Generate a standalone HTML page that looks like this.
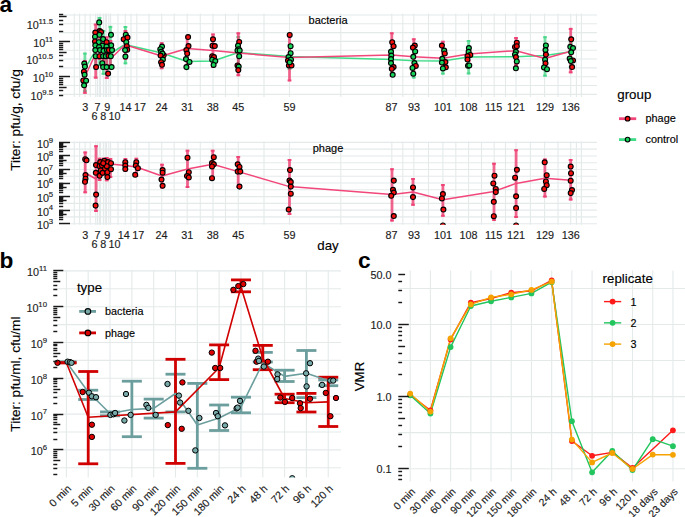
<!DOCTYPE html>
<html><head><meta charset="utf-8"><style>html,body{margin:0;padding:0;background:#fff;overflow:hidden;}svg{display:block;}</style></head><body>
<svg width="685" height="517" viewBox="0 0 685 517" font-family='"Liberation Sans", sans-serif'>
<style>text{stroke-width:0.15px;stroke-linejoin:round;}</style>
<rect width="685" height="517" fill="#fff"/>
<line x1="59" y1="94.35" x2="597" y2="94.35" stroke="#E4EAEA" stroke-width="1.1" />
<line x1="59" y1="85.53" x2="597" y2="85.53" stroke="#E4EAEA" stroke-width="1.1" />
<line x1="59" y1="76.7" x2="597" y2="76.7" stroke="#E4EAEA" stroke-width="1.1" />
<line x1="59" y1="67.88" x2="597" y2="67.88" stroke="#E4EAEA" stroke-width="1.1" />
<line x1="59" y1="59.05" x2="597" y2="59.05" stroke="#E4EAEA" stroke-width="1.1" />
<line x1="59" y1="50.22" x2="597" y2="50.22" stroke="#E4EAEA" stroke-width="1.1" />
<line x1="59" y1="41.4" x2="597" y2="41.4" stroke="#E4EAEA" stroke-width="1.1" />
<line x1="59" y1="32.58" x2="597" y2="32.58" stroke="#E4EAEA" stroke-width="1.1" />
<line x1="59" y1="23.75" x2="597" y2="23.75" stroke="#E4EAEA" stroke-width="1.1" />
<line x1="59" y1="14.93" x2="597" y2="14.93" stroke="#E4EAEA" stroke-width="1.1" />
<line x1="74.3" y1="13.5" x2="74.3" y2="97" stroke="#E4EAEA" stroke-width="1.1" />
<line x1="79.6" y1="13.5" x2="79.6" y2="97" stroke="#E4EAEA" stroke-width="1.1" />
<line x1="85.1" y1="13.5" x2="85.1" y2="97" stroke="#E4EAEA" stroke-width="1.1" />
<line x1="90.2" y1="13.5" x2="90.2" y2="97" stroke="#E4EAEA" stroke-width="1.1" />
<line x1="95.7" y1="13.5" x2="95.7" y2="97" stroke="#E4EAEA" stroke-width="1.1" />
<line x1="97.5" y1="13.5" x2="97.5" y2="97" stroke="#E4EAEA" stroke-width="1.1" />
<line x1="99.4" y1="13.5" x2="99.4" y2="97" stroke="#E4EAEA" stroke-width="1.1" />
<line x1="100.5" y1="13.5" x2="100.5" y2="97" stroke="#E4EAEA" stroke-width="1.1" />
<line x1="103.4" y1="13.5" x2="103.4" y2="97" stroke="#E4EAEA" stroke-width="1.1" />
<line x1="105.3" y1="13.5" x2="105.3" y2="97" stroke="#E4EAEA" stroke-width="1.1" />
<line x1="106.5" y1="13.5" x2="106.5" y2="97" stroke="#E4EAEA" stroke-width="1.1" />
<line x1="108.8" y1="13.5" x2="108.8" y2="97" stroke="#E4EAEA" stroke-width="1.1" />
<line x1="110.6" y1="13.5" x2="110.6" y2="97" stroke="#E4EAEA" stroke-width="1.1" />
<line x1="118" y1="13.5" x2="118" y2="97" stroke="#E4EAEA" stroke-width="1.1" />
<line x1="125.3" y1="13.5" x2="125.3" y2="97" stroke="#E4EAEA" stroke-width="1.1" />
<line x1="131" y1="13.5" x2="131" y2="97" stroke="#E4EAEA" stroke-width="1.1" />
<line x1="136.8" y1="13.5" x2="136.8" y2="97" stroke="#E4EAEA" stroke-width="1.1" />
<line x1="149" y1="13.5" x2="149" y2="97" stroke="#E4EAEA" stroke-width="1.1" />
<line x1="161.7" y1="13.5" x2="161.7" y2="97" stroke="#E4EAEA" stroke-width="1.1" />
<line x1="174.2" y1="13.5" x2="174.2" y2="97" stroke="#E4EAEA" stroke-width="1.1" />
<line x1="187.2" y1="13.5" x2="187.2" y2="97" stroke="#E4EAEA" stroke-width="1.1" />
<line x1="200.3" y1="13.5" x2="200.3" y2="97" stroke="#E4EAEA" stroke-width="1.1" />
<line x1="213" y1="13.5" x2="213" y2="97" stroke="#E4EAEA" stroke-width="1.1" />
<line x1="225.5" y1="13.5" x2="225.5" y2="97" stroke="#E4EAEA" stroke-width="1.1" />
<line x1="238.3" y1="13.5" x2="238.3" y2="97" stroke="#E4EAEA" stroke-width="1.1" />
<line x1="264" y1="13.5" x2="264" y2="97" stroke="#E4EAEA" stroke-width="1.1" />
<line x1="289.5" y1="13.5" x2="289.5" y2="97" stroke="#E4EAEA" stroke-width="1.1" />
<line x1="340.8" y1="13.5" x2="340.8" y2="97" stroke="#E4EAEA" stroke-width="1.1" />
<line x1="391.8" y1="13.5" x2="391.8" y2="97" stroke="#E4EAEA" stroke-width="1.1" />
<line x1="402.8" y1="13.5" x2="402.8" y2="97" stroke="#E4EAEA" stroke-width="1.1" />
<line x1="413.8" y1="13.5" x2="413.8" y2="97" stroke="#E4EAEA" stroke-width="1.1" />
<line x1="428.5" y1="13.5" x2="428.5" y2="97" stroke="#E4EAEA" stroke-width="1.1" />
<line x1="442.9" y1="13.5" x2="442.9" y2="97" stroke="#E4EAEA" stroke-width="1.1" />
<line x1="455.8" y1="13.5" x2="455.8" y2="97" stroke="#E4EAEA" stroke-width="1.1" />
<line x1="468.6" y1="13.5" x2="468.6" y2="97" stroke="#E4EAEA" stroke-width="1.1" />
<line x1="481.5" y1="13.5" x2="481.5" y2="97" stroke="#E4EAEA" stroke-width="1.1" />
<line x1="494.2" y1="13.5" x2="494.2" y2="97" stroke="#E4EAEA" stroke-width="1.1" />
<line x1="505.5" y1="13.5" x2="505.5" y2="97" stroke="#E4EAEA" stroke-width="1.1" />
<line x1="516" y1="13.5" x2="516" y2="97" stroke="#E4EAEA" stroke-width="1.1" />
<line x1="530.4" y1="13.5" x2="530.4" y2="97" stroke="#E4EAEA" stroke-width="1.1" />
<line x1="544.6" y1="13.5" x2="544.6" y2="97" stroke="#E4EAEA" stroke-width="1.1" />
<line x1="558" y1="13.5" x2="558" y2="97" stroke="#E4EAEA" stroke-width="1.1" />
<line x1="570.7" y1="13.5" x2="570.7" y2="97" stroke="#E4EAEA" stroke-width="1.1" />
<line x1="576.4" y1="13.5" x2="576.4" y2="97" stroke="#E4EAEA" stroke-width="1.1" />
<line x1="581.4" y1="13.5" x2="581.4" y2="97" stroke="#E4EAEA" stroke-width="1.1" />
<line x1="59" y1="223.7" x2="597" y2="223.7" stroke="#E4EAEA" stroke-width="1.1" />
<line x1="59" y1="216.92" x2="597" y2="216.92" stroke="#E4EAEA" stroke-width="1.1" />
<line x1="59" y1="210.15" x2="597" y2="210.15" stroke="#E4EAEA" stroke-width="1.1" />
<line x1="59" y1="203.38" x2="597" y2="203.38" stroke="#E4EAEA" stroke-width="1.1" />
<line x1="59" y1="196.6" x2="597" y2="196.6" stroke="#E4EAEA" stroke-width="1.1" />
<line x1="59" y1="189.82" x2="597" y2="189.82" stroke="#E4EAEA" stroke-width="1.1" />
<line x1="59" y1="183.05" x2="597" y2="183.05" stroke="#E4EAEA" stroke-width="1.1" />
<line x1="59" y1="176.27" x2="597" y2="176.27" stroke="#E4EAEA" stroke-width="1.1" />
<line x1="59" y1="169.5" x2="597" y2="169.5" stroke="#E4EAEA" stroke-width="1.1" />
<line x1="59" y1="162.72" x2="597" y2="162.72" stroke="#E4EAEA" stroke-width="1.1" />
<line x1="59" y1="155.95" x2="597" y2="155.95" stroke="#E4EAEA" stroke-width="1.1" />
<line x1="59" y1="149.17" x2="597" y2="149.17" stroke="#E4EAEA" stroke-width="1.1" />
<line x1="59" y1="142.4" x2="597" y2="142.4" stroke="#E4EAEA" stroke-width="1.1" />
<line x1="74.3" y1="141.6" x2="74.3" y2="224.8" stroke="#E4EAEA" stroke-width="1.1" />
<line x1="79.6" y1="141.6" x2="79.6" y2="224.8" stroke="#E4EAEA" stroke-width="1.1" />
<line x1="85.1" y1="141.6" x2="85.1" y2="224.8" stroke="#E4EAEA" stroke-width="1.1" />
<line x1="90.2" y1="141.6" x2="90.2" y2="224.8" stroke="#E4EAEA" stroke-width="1.1" />
<line x1="95.7" y1="141.6" x2="95.7" y2="224.8" stroke="#E4EAEA" stroke-width="1.1" />
<line x1="97.5" y1="141.6" x2="97.5" y2="224.8" stroke="#E4EAEA" stroke-width="1.1" />
<line x1="99.4" y1="141.6" x2="99.4" y2="224.8" stroke="#E4EAEA" stroke-width="1.1" />
<line x1="100.5" y1="141.6" x2="100.5" y2="224.8" stroke="#E4EAEA" stroke-width="1.1" />
<line x1="103.4" y1="141.6" x2="103.4" y2="224.8" stroke="#E4EAEA" stroke-width="1.1" />
<line x1="105.3" y1="141.6" x2="105.3" y2="224.8" stroke="#E4EAEA" stroke-width="1.1" />
<line x1="106.5" y1="141.6" x2="106.5" y2="224.8" stroke="#E4EAEA" stroke-width="1.1" />
<line x1="108.8" y1="141.6" x2="108.8" y2="224.8" stroke="#E4EAEA" stroke-width="1.1" />
<line x1="110.6" y1="141.6" x2="110.6" y2="224.8" stroke="#E4EAEA" stroke-width="1.1" />
<line x1="118" y1="141.6" x2="118" y2="224.8" stroke="#E4EAEA" stroke-width="1.1" />
<line x1="125.3" y1="141.6" x2="125.3" y2="224.8" stroke="#E4EAEA" stroke-width="1.1" />
<line x1="131" y1="141.6" x2="131" y2="224.8" stroke="#E4EAEA" stroke-width="1.1" />
<line x1="136.8" y1="141.6" x2="136.8" y2="224.8" stroke="#E4EAEA" stroke-width="1.1" />
<line x1="149" y1="141.6" x2="149" y2="224.8" stroke="#E4EAEA" stroke-width="1.1" />
<line x1="161.7" y1="141.6" x2="161.7" y2="224.8" stroke="#E4EAEA" stroke-width="1.1" />
<line x1="174.2" y1="141.6" x2="174.2" y2="224.8" stroke="#E4EAEA" stroke-width="1.1" />
<line x1="187.2" y1="141.6" x2="187.2" y2="224.8" stroke="#E4EAEA" stroke-width="1.1" />
<line x1="200.3" y1="141.6" x2="200.3" y2="224.8" stroke="#E4EAEA" stroke-width="1.1" />
<line x1="213" y1="141.6" x2="213" y2="224.8" stroke="#E4EAEA" stroke-width="1.1" />
<line x1="225.5" y1="141.6" x2="225.5" y2="224.8" stroke="#E4EAEA" stroke-width="1.1" />
<line x1="238.3" y1="141.6" x2="238.3" y2="224.8" stroke="#E4EAEA" stroke-width="1.1" />
<line x1="264" y1="141.6" x2="264" y2="224.8" stroke="#E4EAEA" stroke-width="1.1" />
<line x1="289.5" y1="141.6" x2="289.5" y2="224.8" stroke="#E4EAEA" stroke-width="1.1" />
<line x1="340.8" y1="141.6" x2="340.8" y2="224.8" stroke="#E4EAEA" stroke-width="1.1" />
<line x1="391.8" y1="141.6" x2="391.8" y2="224.8" stroke="#E4EAEA" stroke-width="1.1" />
<line x1="402.8" y1="141.6" x2="402.8" y2="224.8" stroke="#E4EAEA" stroke-width="1.1" />
<line x1="413.8" y1="141.6" x2="413.8" y2="224.8" stroke="#E4EAEA" stroke-width="1.1" />
<line x1="428.5" y1="141.6" x2="428.5" y2="224.8" stroke="#E4EAEA" stroke-width="1.1" />
<line x1="442.9" y1="141.6" x2="442.9" y2="224.8" stroke="#E4EAEA" stroke-width="1.1" />
<line x1="455.8" y1="141.6" x2="455.8" y2="224.8" stroke="#E4EAEA" stroke-width="1.1" />
<line x1="468.6" y1="141.6" x2="468.6" y2="224.8" stroke="#E4EAEA" stroke-width="1.1" />
<line x1="481.5" y1="141.6" x2="481.5" y2="224.8" stroke="#E4EAEA" stroke-width="1.1" />
<line x1="494.2" y1="141.6" x2="494.2" y2="224.8" stroke="#E4EAEA" stroke-width="1.1" />
<line x1="505.5" y1="141.6" x2="505.5" y2="224.8" stroke="#E4EAEA" stroke-width="1.1" />
<line x1="516" y1="141.6" x2="516" y2="224.8" stroke="#E4EAEA" stroke-width="1.1" />
<line x1="530.4" y1="141.6" x2="530.4" y2="224.8" stroke="#E4EAEA" stroke-width="1.1" />
<line x1="544.6" y1="141.6" x2="544.6" y2="224.8" stroke="#E4EAEA" stroke-width="1.1" />
<line x1="558" y1="141.6" x2="558" y2="224.8" stroke="#E4EAEA" stroke-width="1.1" />
<line x1="570.7" y1="141.6" x2="570.7" y2="224.8" stroke="#E4EAEA" stroke-width="1.1" />
<line x1="576.4" y1="141.6" x2="576.4" y2="224.8" stroke="#E4EAEA" stroke-width="1.1" />
<line x1="581.4" y1="141.6" x2="581.4" y2="224.8" stroke="#E4EAEA" stroke-width="1.1" />
<line x1="84.9" y1="52.6" x2="84.9" y2="92" stroke="#2FD27A" stroke-width="2.8" stroke-opacity="0.65"/>
<line x1="82.9" y1="53.6" x2="86.9" y2="53.6" stroke="#2FD27A" stroke-width="2.0" stroke-opacity="0.65"/>
<line x1="82.9" y1="91" x2="86.9" y2="91" stroke="#2FD27A" stroke-width="2.0" stroke-opacity="0.65"/>
<line x1="95.7" y1="30" x2="95.7" y2="70" stroke="#2FD27A" stroke-width="2.8" stroke-opacity="0.65"/>
<line x1="93.7" y1="31" x2="97.7" y2="31" stroke="#2FD27A" stroke-width="2.0" stroke-opacity="0.65"/>
<line x1="93.7" y1="69" x2="97.7" y2="69" stroke="#2FD27A" stroke-width="2.0" stroke-opacity="0.65"/>
<line x1="99.6" y1="17" x2="99.6" y2="66" stroke="#2FD27A" stroke-width="2.8" stroke-opacity="0.65"/>
<line x1="97.6" y1="18" x2="101.6" y2="18" stroke="#2FD27A" stroke-width="2.0" stroke-opacity="0.65"/>
<line x1="97.6" y1="65" x2="101.6" y2="65" stroke="#2FD27A" stroke-width="2.0" stroke-opacity="0.65"/>
<line x1="103.4" y1="30" x2="103.4" y2="74.8" stroke="#2FD27A" stroke-width="2.8" stroke-opacity="0.65"/>
<line x1="101.4" y1="31" x2="105.4" y2="31" stroke="#2FD27A" stroke-width="2.0" stroke-opacity="0.65"/>
<line x1="101.4" y1="73.8" x2="105.4" y2="73.8" stroke="#2FD27A" stroke-width="2.0" stroke-opacity="0.65"/>
<line x1="106.7" y1="40" x2="106.7" y2="70" stroke="#2FD27A" stroke-width="2.8" stroke-opacity="0.65"/>
<line x1="104.7" y1="41" x2="108.7" y2="41" stroke="#2FD27A" stroke-width="2.0" stroke-opacity="0.65"/>
<line x1="104.7" y1="69" x2="108.7" y2="69" stroke="#2FD27A" stroke-width="2.0" stroke-opacity="0.65"/>
<line x1="110.4" y1="25.9" x2="110.4" y2="70" stroke="#2FD27A" stroke-width="2.8" stroke-opacity="0.65"/>
<line x1="108.4" y1="26.9" x2="112.4" y2="26.9" stroke="#2FD27A" stroke-width="2.0" stroke-opacity="0.65"/>
<line x1="108.4" y1="69" x2="112.4" y2="69" stroke="#2FD27A" stroke-width="2.0" stroke-opacity="0.65"/>
<line x1="125.4" y1="26" x2="125.4" y2="64.3" stroke="#2FD27A" stroke-width="2.8" stroke-opacity="0.65"/>
<line x1="123.4" y1="27" x2="127.4" y2="27" stroke="#2FD27A" stroke-width="2.0" stroke-opacity="0.65"/>
<line x1="123.4" y1="63.3" x2="127.4" y2="63.3" stroke="#2FD27A" stroke-width="2.0" stroke-opacity="0.65"/>
<line x1="161.7" y1="45" x2="161.7" y2="65" stroke="#2FD27A" stroke-width="2.8" stroke-opacity="0.65"/>
<line x1="159.7" y1="46" x2="163.7" y2="46" stroke="#2FD27A" stroke-width="2.0" stroke-opacity="0.65"/>
<line x1="159.7" y1="64" x2="163.7" y2="64" stroke="#2FD27A" stroke-width="2.0" stroke-opacity="0.65"/>
<line x1="187.2" y1="55" x2="187.2" y2="70" stroke="#2FD27A" stroke-width="2.8" stroke-opacity="0.65"/>
<line x1="185.2" y1="56" x2="189.2" y2="56" stroke="#2FD27A" stroke-width="2.0" stroke-opacity="0.65"/>
<line x1="185.2" y1="69" x2="189.2" y2="69" stroke="#2FD27A" stroke-width="2.0" stroke-opacity="0.65"/>
<line x1="213" y1="55" x2="213" y2="67" stroke="#2FD27A" stroke-width="2.8" stroke-opacity="0.65"/>
<line x1="211" y1="56" x2="215" y2="56" stroke="#2FD27A" stroke-width="2.0" stroke-opacity="0.65"/>
<line x1="211" y1="66" x2="215" y2="66" stroke="#2FD27A" stroke-width="2.0" stroke-opacity="0.65"/>
<line x1="238.3" y1="36" x2="238.3" y2="70" stroke="#2FD27A" stroke-width="2.8" stroke-opacity="0.65"/>
<line x1="236.3" y1="37" x2="240.3" y2="37" stroke="#2FD27A" stroke-width="2.0" stroke-opacity="0.65"/>
<line x1="236.3" y1="69" x2="240.3" y2="69" stroke="#2FD27A" stroke-width="2.0" stroke-opacity="0.65"/>
<line x1="289.5" y1="44" x2="289.5" y2="70" stroke="#2FD27A" stroke-width="2.8" stroke-opacity="0.65"/>
<line x1="287.5" y1="45" x2="291.5" y2="45" stroke="#2FD27A" stroke-width="2.0" stroke-opacity="0.65"/>
<line x1="287.5" y1="69" x2="291.5" y2="69" stroke="#2FD27A" stroke-width="2.0" stroke-opacity="0.65"/>
<line x1="391.8" y1="48" x2="391.8" y2="75" stroke="#2FD27A" stroke-width="2.8" stroke-opacity="0.65"/>
<line x1="389.8" y1="49" x2="393.8" y2="49" stroke="#2FD27A" stroke-width="2.0" stroke-opacity="0.65"/>
<line x1="389.8" y1="74" x2="393.8" y2="74" stroke="#2FD27A" stroke-width="2.0" stroke-opacity="0.65"/>
<line x1="413.8" y1="45" x2="413.8" y2="78.5" stroke="#2FD27A" stroke-width="2.8" stroke-opacity="0.65"/>
<line x1="411.8" y1="46" x2="415.8" y2="46" stroke="#2FD27A" stroke-width="2.0" stroke-opacity="0.65"/>
<line x1="411.8" y1="77.5" x2="415.8" y2="77.5" stroke="#2FD27A" stroke-width="2.0" stroke-opacity="0.65"/>
<line x1="442.9" y1="44" x2="442.9" y2="74.6" stroke="#2FD27A" stroke-width="2.8" stroke-opacity="0.65"/>
<line x1="440.9" y1="45" x2="444.9" y2="45" stroke="#2FD27A" stroke-width="2.0" stroke-opacity="0.65"/>
<line x1="440.9" y1="73.6" x2="444.9" y2="73.6" stroke="#2FD27A" stroke-width="2.0" stroke-opacity="0.65"/>
<line x1="468.6" y1="40" x2="468.6" y2="74.4" stroke="#2FD27A" stroke-width="2.8" stroke-opacity="0.65"/>
<line x1="466.6" y1="41" x2="470.6" y2="41" stroke="#2FD27A" stroke-width="2.0" stroke-opacity="0.65"/>
<line x1="466.6" y1="73.4" x2="470.6" y2="73.4" stroke="#2FD27A" stroke-width="2.0" stroke-opacity="0.65"/>
<line x1="516" y1="45" x2="516" y2="70" stroke="#2FD27A" stroke-width="2.8" stroke-opacity="0.65"/>
<line x1="514" y1="46" x2="518" y2="46" stroke="#2FD27A" stroke-width="2.0" stroke-opacity="0.65"/>
<line x1="514" y1="69" x2="518" y2="69" stroke="#2FD27A" stroke-width="2.0" stroke-opacity="0.65"/>
<line x1="545" y1="36.2" x2="545" y2="76.6" stroke="#2FD27A" stroke-width="2.8" stroke-opacity="0.65"/>
<line x1="543" y1="37.2" x2="547" y2="37.2" stroke="#2FD27A" stroke-width="2.0" stroke-opacity="0.65"/>
<line x1="543" y1="75.6" x2="547" y2="75.6" stroke="#2FD27A" stroke-width="2.0" stroke-opacity="0.65"/>
<line x1="570.7" y1="42" x2="570.7" y2="68" stroke="#2FD27A" stroke-width="2.8" stroke-opacity="0.65"/>
<line x1="568.7" y1="43" x2="572.7" y2="43" stroke="#2FD27A" stroke-width="2.0" stroke-opacity="0.65"/>
<line x1="568.7" y1="67" x2="572.7" y2="67" stroke="#2FD27A" stroke-width="2.0" stroke-opacity="0.65"/>
<line x1="84.9" y1="60" x2="84.9" y2="93.8" stroke="#EE3A6E" stroke-width="2.8" stroke-opacity="0.78"/>
<line x1="82.9" y1="61" x2="86.9" y2="61" stroke="#EE3A6E" stroke-width="2.0" stroke-opacity="0.78"/>
<line x1="82.9" y1="92.8" x2="86.9" y2="92.8" stroke="#EE3A6E" stroke-width="2.0" stroke-opacity="0.78"/>
<line x1="95.7" y1="23.6" x2="95.7" y2="78.6" stroke="#EE3A6E" stroke-width="2.8" stroke-opacity="0.78"/>
<line x1="93.7" y1="24.6" x2="97.7" y2="24.6" stroke="#EE3A6E" stroke-width="2.0" stroke-opacity="0.78"/>
<line x1="93.7" y1="77.6" x2="97.7" y2="77.6" stroke="#EE3A6E" stroke-width="2.0" stroke-opacity="0.78"/>
<line x1="99.6" y1="28" x2="99.6" y2="60" stroke="#EE3A6E" stroke-width="2.8" stroke-opacity="0.78"/>
<line x1="97.6" y1="29" x2="101.6" y2="29" stroke="#EE3A6E" stroke-width="2.0" stroke-opacity="0.78"/>
<line x1="97.6" y1="59" x2="101.6" y2="59" stroke="#EE3A6E" stroke-width="2.0" stroke-opacity="0.78"/>
<line x1="103.4" y1="38" x2="103.4" y2="62" stroke="#EE3A6E" stroke-width="2.8" stroke-opacity="0.78"/>
<line x1="101.4" y1="39" x2="105.4" y2="39" stroke="#EE3A6E" stroke-width="2.0" stroke-opacity="0.78"/>
<line x1="101.4" y1="61" x2="105.4" y2="61" stroke="#EE3A6E" stroke-width="2.0" stroke-opacity="0.78"/>
<line x1="106.8" y1="36.4" x2="106.8" y2="79" stroke="#EE3A6E" stroke-width="2.8" stroke-opacity="0.78"/>
<line x1="104.8" y1="37.4" x2="108.8" y2="37.4" stroke="#EE3A6E" stroke-width="2.0" stroke-opacity="0.78"/>
<line x1="104.8" y1="78" x2="108.8" y2="78" stroke="#EE3A6E" stroke-width="2.0" stroke-opacity="0.78"/>
<line x1="110.4" y1="40" x2="110.4" y2="66" stroke="#EE3A6E" stroke-width="2.8" stroke-opacity="0.78"/>
<line x1="108.4" y1="41" x2="112.4" y2="41" stroke="#EE3A6E" stroke-width="2.0" stroke-opacity="0.78"/>
<line x1="108.4" y1="65" x2="112.4" y2="65" stroke="#EE3A6E" stroke-width="2.0" stroke-opacity="0.78"/>
<line x1="125.4" y1="30" x2="125.4" y2="60" stroke="#EE3A6E" stroke-width="2.8" stroke-opacity="0.78"/>
<line x1="123.4" y1="31" x2="127.4" y2="31" stroke="#EE3A6E" stroke-width="2.0" stroke-opacity="0.78"/>
<line x1="123.4" y1="59" x2="127.4" y2="59" stroke="#EE3A6E" stroke-width="2.0" stroke-opacity="0.78"/>
<line x1="161.7" y1="42.2" x2="161.7" y2="69.2" stroke="#EE3A6E" stroke-width="2.8" stroke-opacity="0.78"/>
<line x1="159.7" y1="43.2" x2="163.7" y2="43.2" stroke="#EE3A6E" stroke-width="2.0" stroke-opacity="0.78"/>
<line x1="159.7" y1="68.2" x2="163.7" y2="68.2" stroke="#EE3A6E" stroke-width="2.0" stroke-opacity="0.78"/>
<line x1="187.2" y1="36.5" x2="187.2" y2="68.3" stroke="#EE3A6E" stroke-width="2.8" stroke-opacity="0.78"/>
<line x1="185.2" y1="37.5" x2="189.2" y2="37.5" stroke="#EE3A6E" stroke-width="2.0" stroke-opacity="0.78"/>
<line x1="185.2" y1="67.3" x2="189.2" y2="67.3" stroke="#EE3A6E" stroke-width="2.0" stroke-opacity="0.78"/>
<line x1="213" y1="33.5" x2="213" y2="68" stroke="#EE3A6E" stroke-width="2.8" stroke-opacity="0.78"/>
<line x1="211" y1="34.5" x2="215" y2="34.5" stroke="#EE3A6E" stroke-width="2.0" stroke-opacity="0.78"/>
<line x1="211" y1="67" x2="215" y2="67" stroke="#EE3A6E" stroke-width="2.0" stroke-opacity="0.78"/>
<line x1="238.3" y1="32.3" x2="238.3" y2="76.2" stroke="#EE3A6E" stroke-width="2.8" stroke-opacity="0.78"/>
<line x1="236.3" y1="33.3" x2="240.3" y2="33.3" stroke="#EE3A6E" stroke-width="2.0" stroke-opacity="0.78"/>
<line x1="236.3" y1="75.2" x2="240.3" y2="75.2" stroke="#EE3A6E" stroke-width="2.0" stroke-opacity="0.78"/>
<line x1="289.5" y1="34.4" x2="289.5" y2="81.4" stroke="#EE3A6E" stroke-width="2.8" stroke-opacity="0.78"/>
<line x1="287.5" y1="35.4" x2="291.5" y2="35.4" stroke="#EE3A6E" stroke-width="2.0" stroke-opacity="0.78"/>
<line x1="287.5" y1="80.4" x2="291.5" y2="80.4" stroke="#EE3A6E" stroke-width="2.0" stroke-opacity="0.78"/>
<line x1="391.8" y1="32.3" x2="391.8" y2="77" stroke="#EE3A6E" stroke-width="2.8" stroke-opacity="0.78"/>
<line x1="389.8" y1="33.3" x2="393.8" y2="33.3" stroke="#EE3A6E" stroke-width="2.0" stroke-opacity="0.78"/>
<line x1="389.8" y1="76" x2="393.8" y2="76" stroke="#EE3A6E" stroke-width="2.0" stroke-opacity="0.78"/>
<line x1="413.8" y1="38.3" x2="413.8" y2="74" stroke="#EE3A6E" stroke-width="2.8" stroke-opacity="0.78"/>
<line x1="411.8" y1="39.3" x2="415.8" y2="39.3" stroke="#EE3A6E" stroke-width="2.0" stroke-opacity="0.78"/>
<line x1="411.8" y1="73" x2="415.8" y2="73" stroke="#EE3A6E" stroke-width="2.0" stroke-opacity="0.78"/>
<line x1="442.9" y1="40.8" x2="442.9" y2="70" stroke="#EE3A6E" stroke-width="2.8" stroke-opacity="0.78"/>
<line x1="440.9" y1="41.8" x2="444.9" y2="41.8" stroke="#EE3A6E" stroke-width="2.0" stroke-opacity="0.78"/>
<line x1="440.9" y1="69" x2="444.9" y2="69" stroke="#EE3A6E" stroke-width="2.0" stroke-opacity="0.78"/>
<line x1="468.6" y1="50" x2="468.6" y2="62" stroke="#EE3A6E" stroke-width="2.8" stroke-opacity="0.78"/>
<line x1="466.6" y1="51" x2="470.6" y2="51" stroke="#EE3A6E" stroke-width="2.0" stroke-opacity="0.78"/>
<line x1="466.6" y1="61" x2="470.6" y2="61" stroke="#EE3A6E" stroke-width="2.0" stroke-opacity="0.78"/>
<line x1="516" y1="37" x2="516" y2="66" stroke="#EE3A6E" stroke-width="2.8" stroke-opacity="0.78"/>
<line x1="514" y1="38" x2="518" y2="38" stroke="#EE3A6E" stroke-width="2.0" stroke-opacity="0.78"/>
<line x1="514" y1="65" x2="518" y2="65" stroke="#EE3A6E" stroke-width="2.0" stroke-opacity="0.78"/>
<line x1="545" y1="50" x2="545" y2="66" stroke="#EE3A6E" stroke-width="2.8" stroke-opacity="0.78"/>
<line x1="543" y1="51" x2="547" y2="51" stroke="#EE3A6E" stroke-width="2.0" stroke-opacity="0.78"/>
<line x1="543" y1="65" x2="547" y2="65" stroke="#EE3A6E" stroke-width="2.0" stroke-opacity="0.78"/>
<line x1="570.7" y1="27.9" x2="570.7" y2="73.3" stroke="#EE3A6E" stroke-width="2.8" stroke-opacity="0.78"/>
<line x1="568.7" y1="28.9" x2="572.7" y2="28.9" stroke="#EE3A6E" stroke-width="2.0" stroke-opacity="0.78"/>
<line x1="568.7" y1="72.3" x2="572.7" y2="72.3" stroke="#EE3A6E" stroke-width="2.0" stroke-opacity="0.78"/>
<polyline points="84.8,69 95.7,50 99.4,45 103,52 106.7,50 110.3,56 114.5,51 124.9,44.5 161.7,53 187.2,61.5 213,61 238.3,52.5 289.5,56.5 391.8,59.6 413.8,60.7 442.9,61.1 468.6,57 516,56.8 545,55.5 570.7,51.8" fill="none" stroke="#40DC88" stroke-width="1.5" stroke-linejoin="round" />
<polyline points="84.8,77 95.7,53.5 99.4,44 103,50 106.7,52 110.3,57 114.5,55 124.9,44.8 161.7,56 187.2,48.5 213,50.5 238.3,53 289.5,57.5 391.8,55 413.8,56.8 442.9,58.2 468.6,54 516,50.7 545,58.5 570.7,51.2" fill="none" stroke="#F2477A" stroke-width="1.5" stroke-linejoin="round" />
<circle cx="84.3" cy="63.6" r="2.45" fill="#16D35A" stroke="#000" stroke-width="1.15"/>
<circle cx="84.9" cy="66.6" r="2.45" fill="#16D35A" stroke="#000" stroke-width="1.15"/>
<circle cx="83.9" cy="71.7" r="2.45" fill="#F60D0D" stroke="#000" stroke-width="1.15"/>
<circle cx="84.6" cy="74.7" r="2.45" fill="#16D35A" stroke="#000" stroke-width="1.15"/>
<circle cx="83.3" cy="80.4" r="2.45" fill="#F60D0D" stroke="#000" stroke-width="1.15"/>
<circle cx="86.1" cy="80.7" r="2.45" fill="#16D35A" stroke="#000" stroke-width="1.15"/>
<circle cx="84.1" cy="85.3" r="2.45" fill="#16D35A" stroke="#000" stroke-width="1.15"/>
<circle cx="99.2" cy="22.4" r="2.45" fill="#16D35A" stroke="#000" stroke-width="1.15"/>
<circle cx="99.6" cy="31" r="2.45" fill="#F60D0D" stroke="#000" stroke-width="1.15"/>
<circle cx="95.3" cy="32.5" r="2.45" fill="#F60D0D" stroke="#000" stroke-width="1.15"/>
<circle cx="101" cy="32" r="2.45" fill="#F60D0D" stroke="#000" stroke-width="1.15"/>
<circle cx="99.4" cy="34.8" r="2.45" fill="#16D35A" stroke="#000" stroke-width="1.15"/>
<circle cx="95" cy="36.7" r="2.45" fill="#16D35A" stroke="#000" stroke-width="1.15"/>
<circle cx="111" cy="34.8" r="2.45" fill="#16D35A" stroke="#000" stroke-width="1.15"/>
<circle cx="103.1" cy="39.1" r="2.45" fill="#16D35A" stroke="#000" stroke-width="1.15"/>
<circle cx="95" cy="41.4" r="2.45" fill="#F60D0D" stroke="#000" stroke-width="1.15"/>
<circle cx="98.8" cy="42.2" r="2.45" fill="#16D35A" stroke="#000" stroke-width="1.15"/>
<circle cx="106.6" cy="42.2" r="2.45" fill="#F60D0D" stroke="#000" stroke-width="1.15"/>
<circle cx="95.3" cy="45.3" r="2.45" fill="#16D35A" stroke="#000" stroke-width="1.15"/>
<circle cx="102.3" cy="45.6" r="2.45" fill="#16D35A" stroke="#000" stroke-width="1.15"/>
<circle cx="111.2" cy="45.3" r="2.45" fill="#16D35A" stroke="#000" stroke-width="1.15"/>
<circle cx="99" cy="47" r="2.45" fill="#16D35A" stroke="#000" stroke-width="1.15"/>
<circle cx="106.5" cy="46.5" r="2.45" fill="#16D35A" stroke="#000" stroke-width="1.15"/>
<circle cx="95.3" cy="50" r="2.45" fill="#16D35A" stroke="#000" stroke-width="1.15"/>
<circle cx="100" cy="50" r="2.45" fill="#16D35A" stroke="#000" stroke-width="1.15"/>
<circle cx="103.5" cy="50.8" r="2.45" fill="#16D35A" stroke="#000" stroke-width="1.15"/>
<circle cx="107" cy="50" r="2.45" fill="#16D35A" stroke="#000" stroke-width="1.15"/>
<circle cx="108.9" cy="50" r="2.45" fill="#F60D0D" stroke="#000" stroke-width="1.15"/>
<circle cx="112" cy="50" r="2.45" fill="#16D35A" stroke="#000" stroke-width="1.15"/>
<circle cx="95.7" cy="56.2" r="2.45" fill="#16D35A" stroke="#000" stroke-width="1.15"/>
<circle cx="99.5" cy="56.2" r="2.45" fill="#F60D0D" stroke="#000" stroke-width="1.15"/>
<circle cx="103.1" cy="56.2" r="2.45" fill="#16D35A" stroke="#000" stroke-width="1.15"/>
<circle cx="105.8" cy="56.2" r="2.45" fill="#16D35A" stroke="#000" stroke-width="1.15"/>
<circle cx="108.5" cy="55.8" r="2.45" fill="#F60D0D" stroke="#000" stroke-width="1.15"/>
<circle cx="110.8" cy="56.2" r="2.45" fill="#16D35A" stroke="#000" stroke-width="1.15"/>
<circle cx="102.3" cy="63.2" r="2.45" fill="#16D35A" stroke="#000" stroke-width="1.15"/>
<circle cx="96.1" cy="67" r="2.45" fill="#F60D0D" stroke="#000" stroke-width="1.15"/>
<circle cx="103.1" cy="67" r="2.45" fill="#16D35A" stroke="#000" stroke-width="1.15"/>
<circle cx="106.6" cy="67" r="2.45" fill="#16D35A" stroke="#000" stroke-width="1.15"/>
<circle cx="111.6" cy="67" r="2.45" fill="#16D35A" stroke="#000" stroke-width="1.15"/>
<circle cx="108.1" cy="73.6" r="2.45" fill="#F60D0D" stroke="#000" stroke-width="1.15"/>
<circle cx="125.8" cy="34.7" r="2.45" fill="#16D35A" stroke="#000" stroke-width="1.15"/>
<circle cx="123.7" cy="39.2" r="2.45" fill="#F60D0D" stroke="#000" stroke-width="1.15"/>
<circle cx="127.5" cy="37.5" r="2.45" fill="#F60D0D" stroke="#000" stroke-width="1.15"/>
<circle cx="126.3" cy="42.2" r="2.45" fill="#16D35A" stroke="#000" stroke-width="1.15"/>
<circle cx="126.8" cy="46.2" r="2.45" fill="#F60D0D" stroke="#000" stroke-width="1.15"/>
<circle cx="127.2" cy="49.7" r="2.45" fill="#F60D0D" stroke="#000" stroke-width="1.15"/>
<circle cx="125.1" cy="50" r="2.45" fill="#16D35A" stroke="#000" stroke-width="1.15"/>
<circle cx="125.4" cy="56.5" r="2.45" fill="#16D35A" stroke="#000" stroke-width="1.15"/>
<circle cx="162" cy="46.6" r="2.45" fill="#16D35A" stroke="#000" stroke-width="1.15"/>
<circle cx="160.3" cy="49.2" r="2.45" fill="#16D35A" stroke="#000" stroke-width="1.15"/>
<circle cx="163.7" cy="55.3" r="2.45" fill="#F60D0D" stroke="#000" stroke-width="1.15"/>
<circle cx="161.1" cy="51.8" r="2.45" fill="#16D35A" stroke="#000" stroke-width="1.15"/>
<circle cx="162.4" cy="53.5" r="2.45" fill="#16D35A" stroke="#000" stroke-width="1.15"/>
<circle cx="160.6" cy="55.6" r="2.45" fill="#F60D0D" stroke="#000" stroke-width="1.15"/>
<circle cx="162.9" cy="59.6" r="2.45" fill="#16D35A" stroke="#000" stroke-width="1.15"/>
<circle cx="161.1" cy="62.2" r="2.45" fill="#F60D0D" stroke="#000" stroke-width="1.15"/>
<circle cx="162" cy="64.8" r="2.45" fill="#F60D0D" stroke="#000" stroke-width="1.15"/>
<circle cx="188.1" cy="37" r="2.45" fill="#F60D0D" stroke="#000" stroke-width="1.15"/>
<circle cx="188.5" cy="46" r="2.45" fill="#F60D0D" stroke="#000" stroke-width="1.15"/>
<circle cx="186.4" cy="50" r="2.45" fill="#F60D0D" stroke="#000" stroke-width="1.15"/>
<circle cx="187.2" cy="53.5" r="2.45" fill="#F60D0D" stroke="#000" stroke-width="1.15"/>
<circle cx="186" cy="59.1" r="2.45" fill="#16D35A" stroke="#000" stroke-width="1.15"/>
<circle cx="189.5" cy="61.9" r="2.45" fill="#16D35A" stroke="#000" stroke-width="1.15"/>
<circle cx="186.4" cy="67.1" r="2.45" fill="#16D35A" stroke="#000" stroke-width="1.15"/>
<circle cx="213" cy="39.3" r="2.45" fill="#F60D0D" stroke="#000" stroke-width="1.15"/>
<circle cx="212.5" cy="45.7" r="2.45" fill="#F60D0D" stroke="#000" stroke-width="1.15"/>
<circle cx="214.8" cy="46" r="2.45" fill="#F60D0D" stroke="#000" stroke-width="1.15"/>
<circle cx="212.2" cy="56.2" r="2.45" fill="#F60D0D" stroke="#000" stroke-width="1.15"/>
<circle cx="214" cy="57" r="2.45" fill="#F60D0D" stroke="#000" stroke-width="1.15"/>
<circle cx="212.2" cy="59.7" r="2.45" fill="#16D35A" stroke="#000" stroke-width="1.15"/>
<circle cx="215.3" cy="61" r="2.45" fill="#16D35A" stroke="#000" stroke-width="1.15"/>
<circle cx="213.6" cy="64.9" r="2.45" fill="#16D35A" stroke="#000" stroke-width="1.15"/>
<circle cx="239.2" cy="41.9" r="2.45" fill="#F60D0D" stroke="#000" stroke-width="1.15"/>
<circle cx="238" cy="45.7" r="2.45" fill="#16D35A" stroke="#000" stroke-width="1.15"/>
<circle cx="238.7" cy="49.2" r="2.45" fill="#16D35A" stroke="#000" stroke-width="1.15"/>
<circle cx="237.5" cy="50.4" r="2.45" fill="#16D35A" stroke="#000" stroke-width="1.15"/>
<circle cx="239.7" cy="50.4" r="2.45" fill="#16D35A" stroke="#000" stroke-width="1.15"/>
<circle cx="239.2" cy="56.2" r="2.45" fill="#16D35A" stroke="#000" stroke-width="1.15"/>
<circle cx="237.5" cy="65.4" r="2.45" fill="#F60D0D" stroke="#000" stroke-width="1.15"/>
<circle cx="238.7" cy="66.6" r="2.45" fill="#16D35A" stroke="#000" stroke-width="1.15"/>
<circle cx="238.3" cy="70.1" r="2.45" fill="#F60D0D" stroke="#000" stroke-width="1.15"/>
<circle cx="289.7" cy="34.9" r="2.45" fill="#F60D0D" stroke="#000" stroke-width="1.15"/>
<circle cx="290.6" cy="46.2" r="2.45" fill="#16D35A" stroke="#000" stroke-width="1.15"/>
<circle cx="290.6" cy="53.2" r="2.45" fill="#16D35A" stroke="#000" stroke-width="1.15"/>
<circle cx="288.5" cy="57" r="2.45" fill="#16D35A" stroke="#000" stroke-width="1.15"/>
<circle cx="288" cy="60.5" r="2.45" fill="#F60D0D" stroke="#000" stroke-width="1.15"/>
<circle cx="288.9" cy="65.4" r="2.45" fill="#F60D0D" stroke="#000" stroke-width="1.15"/>
<circle cx="291.5" cy="65.4" r="2.45" fill="#F60D0D" stroke="#000" stroke-width="1.15"/>
<circle cx="291" cy="59.7" r="2.45" fill="#16D35A" stroke="#000" stroke-width="1.15"/>
<circle cx="289.7" cy="62.3" r="2.45" fill="#16D35A" stroke="#000" stroke-width="1.15"/>
<circle cx="392.2" cy="42.2" r="2.45" fill="#F60D0D" stroke="#000" stroke-width="1.15"/>
<circle cx="393.6" cy="46.2" r="2.45" fill="#F60D0D" stroke="#000" stroke-width="1.15"/>
<circle cx="391" cy="51.8" r="2.45" fill="#16D35A" stroke="#000" stroke-width="1.15"/>
<circle cx="391.3" cy="55.6" r="2.45" fill="#16D35A" stroke="#000" stroke-width="1.15"/>
<circle cx="391" cy="59.1" r="2.45" fill="#16D35A" stroke="#000" stroke-width="1.15"/>
<circle cx="391" cy="63.1" r="2.45" fill="#16D35A" stroke="#000" stroke-width="1.15"/>
<circle cx="393.6" cy="67.1" r="2.45" fill="#F60D0D" stroke="#000" stroke-width="1.15"/>
<circle cx="391.8" cy="68.8" r="2.45" fill="#F60D0D" stroke="#000" stroke-width="1.15"/>
<circle cx="392.7" cy="74.8" r="2.45" fill="#16D35A" stroke="#000" stroke-width="1.15"/>
<circle cx="414.8" cy="45.6" r="2.45" fill="#F60D0D" stroke="#000" stroke-width="1.15"/>
<circle cx="412.9" cy="47.6" r="2.45" fill="#F60D0D" stroke="#000" stroke-width="1.15"/>
<circle cx="415.2" cy="51.4" r="2.45" fill="#16D35A" stroke="#000" stroke-width="1.15"/>
<circle cx="413.3" cy="56.8" r="2.45" fill="#16D35A" stroke="#000" stroke-width="1.15"/>
<circle cx="414.4" cy="63" r="2.45" fill="#16D35A" stroke="#000" stroke-width="1.15"/>
<circle cx="415.8" cy="65.9" r="2.45" fill="#F60D0D" stroke="#000" stroke-width="1.15"/>
<circle cx="412.5" cy="67.9" r="2.45" fill="#16D35A" stroke="#000" stroke-width="1.15"/>
<circle cx="413.3" cy="73.7" r="2.45" fill="#16D35A" stroke="#000" stroke-width="1.15"/>
<circle cx="441.9" cy="45.6" r="2.45" fill="#F60D0D" stroke="#000" stroke-width="1.15"/>
<circle cx="444.2" cy="50.5" r="2.45" fill="#16D35A" stroke="#000" stroke-width="1.15"/>
<circle cx="444.8" cy="53.4" r="2.45" fill="#F60D0D" stroke="#000" stroke-width="1.15"/>
<circle cx="442.3" cy="58.8" r="2.45" fill="#16D35A" stroke="#000" stroke-width="1.15"/>
<circle cx="445.4" cy="62" r="2.45" fill="#F60D0D" stroke="#000" stroke-width="1.15"/>
<circle cx="441.9" cy="62.6" r="2.45" fill="#16D35A" stroke="#000" stroke-width="1.15"/>
<circle cx="445.8" cy="67.3" r="2.45" fill="#F60D0D" stroke="#000" stroke-width="1.15"/>
<circle cx="442.9" cy="68.4" r="2.45" fill="#16D35A" stroke="#000" stroke-width="1.15"/>
<circle cx="468.9" cy="48" r="2.45" fill="#16D35A" stroke="#000" stroke-width="1.15"/>
<circle cx="468.6" cy="51.8" r="2.45" fill="#16D35A" stroke="#000" stroke-width="1.15"/>
<circle cx="470.3" cy="54.9" r="2.45" fill="#F60D0D" stroke="#000" stroke-width="1.15"/>
<circle cx="467.5" cy="56.1" r="2.45" fill="#F60D0D" stroke="#000" stroke-width="1.15"/>
<circle cx="467.5" cy="59.6" r="2.45" fill="#F60D0D" stroke="#000" stroke-width="1.15"/>
<circle cx="468" cy="65.7" r="2.45" fill="#16D35A" stroke="#000" stroke-width="1.15"/>
<circle cx="469.3" cy="65.4" r="2.45" fill="#16D35A" stroke="#000" stroke-width="1.15"/>
<circle cx="516.8" cy="42.7" r="2.45" fill="#F60D0D" stroke="#000" stroke-width="1.15"/>
<circle cx="515" cy="46.9" r="2.45" fill="#F60D0D" stroke="#000" stroke-width="1.15"/>
<circle cx="516.8" cy="46.2" r="2.45" fill="#F60D0D" stroke="#000" stroke-width="1.15"/>
<circle cx="515.9" cy="51.8" r="2.45" fill="#16D35A" stroke="#000" stroke-width="1.15"/>
<circle cx="515" cy="54.4" r="2.45" fill="#16D35A" stroke="#000" stroke-width="1.15"/>
<circle cx="515.9" cy="57" r="2.45" fill="#F60D0D" stroke="#000" stroke-width="1.15"/>
<circle cx="516.8" cy="61.4" r="2.45" fill="#16D35A" stroke="#000" stroke-width="1.15"/>
<circle cx="515.9" cy="68.3" r="2.45" fill="#16D35A" stroke="#000" stroke-width="1.15"/>
<circle cx="545.9" cy="45.4" r="2.45" fill="#16D35A" stroke="#000" stroke-width="1.15"/>
<circle cx="545.5" cy="50" r="2.45" fill="#16D35A" stroke="#000" stroke-width="1.15"/>
<circle cx="545.9" cy="54.5" r="2.45" fill="#F60D0D" stroke="#000" stroke-width="1.15"/>
<circle cx="545.1" cy="59.7" r="2.45" fill="#16D35A" stroke="#000" stroke-width="1.15"/>
<circle cx="545.5" cy="63.3" r="2.45" fill="#F60D0D" stroke="#000" stroke-width="1.15"/>
<circle cx="544" cy="67.4" r="2.45" fill="#16D35A" stroke="#000" stroke-width="1.15"/>
<circle cx="547" cy="69.2" r="2.45" fill="#16D35A" stroke="#000" stroke-width="1.15"/>
<circle cx="571.2" cy="39.3" r="2.45" fill="#F60D0D" stroke="#000" stroke-width="1.15"/>
<circle cx="570.3" cy="46.8" r="2.45" fill="#16D35A" stroke="#000" stroke-width="1.15"/>
<circle cx="573" cy="48.1" r="2.45" fill="#16D35A" stroke="#000" stroke-width="1.15"/>
<circle cx="571.2" cy="52.3" r="2.45" fill="#16D35A" stroke="#000" stroke-width="1.15"/>
<circle cx="573" cy="60.4" r="2.45" fill="#F60D0D" stroke="#000" stroke-width="1.15"/>
<circle cx="569.7" cy="58.6" r="2.45" fill="#16D35A" stroke="#000" stroke-width="1.15"/>
<circle cx="570.8" cy="61" r="2.45" fill="#16D35A" stroke="#000" stroke-width="1.15"/>
<circle cx="572.1" cy="67" r="2.45" fill="#F60D0D" stroke="#000" stroke-width="1.15"/>
<clipPath id="cp"><rect x="59" y="138.6" width="538" height="86.20000000000002"/></clipPath>
<g clip-path="url(#cp)">
<line x1="85.2" y1="151.5" x2="85.2" y2="193.3" stroke="#EE3A6E" stroke-width="2.8" stroke-opacity="0.78"/>
<line x1="83.2" y1="152.5" x2="87.2" y2="152.5" stroke="#EE3A6E" stroke-width="2.0" stroke-opacity="0.78"/>
<line x1="83.2" y1="192.3" x2="87.2" y2="192.3" stroke="#EE3A6E" stroke-width="2.0" stroke-opacity="0.78"/>
<line x1="96" y1="145.2" x2="96" y2="212" stroke="#EE3A6E" stroke-width="2.8" stroke-opacity="0.78"/>
<line x1="94" y1="146.2" x2="98" y2="146.2" stroke="#EE3A6E" stroke-width="2.0" stroke-opacity="0.78"/>
<line x1="94" y1="211" x2="98" y2="211" stroke="#EE3A6E" stroke-width="2.0" stroke-opacity="0.78"/>
<line x1="99.6" y1="157.8" x2="99.6" y2="181" stroke="#EE3A6E" stroke-width="2.8" stroke-opacity="0.78"/>
<line x1="97.6" y1="158.8" x2="101.6" y2="158.8" stroke="#EE3A6E" stroke-width="2.0" stroke-opacity="0.78"/>
<line x1="97.6" y1="180" x2="101.6" y2="180" stroke="#EE3A6E" stroke-width="2.0" stroke-opacity="0.78"/>
<line x1="103.4" y1="157.8" x2="103.4" y2="176" stroke="#EE3A6E" stroke-width="2.8" stroke-opacity="0.78"/>
<line x1="101.4" y1="158.8" x2="105.4" y2="158.8" stroke="#EE3A6E" stroke-width="2.0" stroke-opacity="0.78"/>
<line x1="101.4" y1="175" x2="105.4" y2="175" stroke="#EE3A6E" stroke-width="2.0" stroke-opacity="0.78"/>
<line x1="106.8" y1="157" x2="106.8" y2="181.2" stroke="#EE3A6E" stroke-width="2.8" stroke-opacity="0.78"/>
<line x1="104.8" y1="158" x2="108.8" y2="158" stroke="#EE3A6E" stroke-width="2.0" stroke-opacity="0.78"/>
<line x1="104.8" y1="180.2" x2="108.8" y2="180.2" stroke="#EE3A6E" stroke-width="2.0" stroke-opacity="0.78"/>
<line x1="110.4" y1="158" x2="110.4" y2="178" stroke="#EE3A6E" stroke-width="2.8" stroke-opacity="0.78"/>
<line x1="108.4" y1="159" x2="112.4" y2="159" stroke="#EE3A6E" stroke-width="2.0" stroke-opacity="0.78"/>
<line x1="108.4" y1="177" x2="112.4" y2="177" stroke="#EE3A6E" stroke-width="2.0" stroke-opacity="0.78"/>
<line x1="125.4" y1="158" x2="125.4" y2="172" stroke="#EE3A6E" stroke-width="2.8" stroke-opacity="0.78"/>
<line x1="123.4" y1="159" x2="127.4" y2="159" stroke="#EE3A6E" stroke-width="2.0" stroke-opacity="0.78"/>
<line x1="123.4" y1="171" x2="127.4" y2="171" stroke="#EE3A6E" stroke-width="2.0" stroke-opacity="0.78"/>
<line x1="136.3" y1="157.7" x2="136.3" y2="177" stroke="#EE3A6E" stroke-width="2.8" stroke-opacity="0.78"/>
<line x1="134.3" y1="158.7" x2="138.3" y2="158.7" stroke="#EE3A6E" stroke-width="2.0" stroke-opacity="0.78"/>
<line x1="134.3" y1="176" x2="138.3" y2="176" stroke="#EE3A6E" stroke-width="2.0" stroke-opacity="0.78"/>
<line x1="162" y1="163.7" x2="162" y2="188.4" stroke="#EE3A6E" stroke-width="2.8" stroke-opacity="0.78"/>
<line x1="160" y1="164.7" x2="164" y2="164.7" stroke="#EE3A6E" stroke-width="2.0" stroke-opacity="0.78"/>
<line x1="160" y1="187.4" x2="164" y2="187.4" stroke="#EE3A6E" stroke-width="2.0" stroke-opacity="0.78"/>
<line x1="187.5" y1="149.8" x2="187.5" y2="187.9" stroke="#EE3A6E" stroke-width="2.8" stroke-opacity="0.78"/>
<line x1="185.5" y1="150.8" x2="189.5" y2="150.8" stroke="#EE3A6E" stroke-width="2.0" stroke-opacity="0.78"/>
<line x1="185.5" y1="186.9" x2="189.5" y2="186.9" stroke="#EE3A6E" stroke-width="2.0" stroke-opacity="0.78"/>
<line x1="212.7" y1="149.8" x2="212.7" y2="180" stroke="#EE3A6E" stroke-width="2.8" stroke-opacity="0.78"/>
<line x1="210.7" y1="150.8" x2="214.7" y2="150.8" stroke="#EE3A6E" stroke-width="2.0" stroke-opacity="0.78"/>
<line x1="210.7" y1="179" x2="214.7" y2="179" stroke="#EE3A6E" stroke-width="2.0" stroke-opacity="0.78"/>
<line x1="238.2" y1="155.9" x2="238.2" y2="188" stroke="#EE3A6E" stroke-width="2.8" stroke-opacity="0.78"/>
<line x1="236.2" y1="156.9" x2="240.2" y2="156.9" stroke="#EE3A6E" stroke-width="2.0" stroke-opacity="0.78"/>
<line x1="236.2" y1="187" x2="240.2" y2="187" stroke="#EE3A6E" stroke-width="2.0" stroke-opacity="0.78"/>
<line x1="289.5" y1="159" x2="289.5" y2="215" stroke="#EE3A6E" stroke-width="2.8" stroke-opacity="0.78"/>
<line x1="287.5" y1="160" x2="291.5" y2="160" stroke="#EE3A6E" stroke-width="2.0" stroke-opacity="0.78"/>
<line x1="287.5" y1="214" x2="291.5" y2="214" stroke="#EE3A6E" stroke-width="2.0" stroke-opacity="0.78"/>
<line x1="392" y1="168.2" x2="392" y2="221.6" stroke="#EE3A6E" stroke-width="2.8" stroke-opacity="0.78"/>
<line x1="390" y1="169.2" x2="394" y2="169.2" stroke="#EE3A6E" stroke-width="2.0" stroke-opacity="0.78"/>
<line x1="390" y1="220.6" x2="394" y2="220.6" stroke="#EE3A6E" stroke-width="2.0" stroke-opacity="0.78"/>
<line x1="413" y1="178" x2="413" y2="205.8" stroke="#EE3A6E" stroke-width="2.8" stroke-opacity="0.78"/>
<line x1="411" y1="179" x2="415" y2="179" stroke="#EE3A6E" stroke-width="2.0" stroke-opacity="0.78"/>
<line x1="411" y1="204.8" x2="415" y2="204.8" stroke="#EE3A6E" stroke-width="2.0" stroke-opacity="0.78"/>
<line x1="442.9" y1="184" x2="442.9" y2="216.8" stroke="#EE3A6E" stroke-width="2.8" stroke-opacity="0.78"/>
<line x1="440.9" y1="185" x2="444.9" y2="185" stroke="#EE3A6E" stroke-width="2.0" stroke-opacity="0.78"/>
<line x1="440.9" y1="215.8" x2="444.9" y2="215.8" stroke="#EE3A6E" stroke-width="2.0" stroke-opacity="0.78"/>
<line x1="494" y1="162.8" x2="494" y2="221.1" stroke="#EE3A6E" stroke-width="2.8" stroke-opacity="0.78"/>
<line x1="492" y1="163.8" x2="496" y2="163.8" stroke="#EE3A6E" stroke-width="2.0" stroke-opacity="0.78"/>
<line x1="492" y1="220.1" x2="496" y2="220.1" stroke="#EE3A6E" stroke-width="2.0" stroke-opacity="0.78"/>
<line x1="516.1" y1="149.2" x2="516.1" y2="217.9" stroke="#EE3A6E" stroke-width="2.8" stroke-opacity="0.78"/>
<line x1="514.1" y1="150.2" x2="518.1" y2="150.2" stroke="#EE3A6E" stroke-width="2.0" stroke-opacity="0.78"/>
<line x1="514.1" y1="216.9" x2="518.1" y2="216.9" stroke="#EE3A6E" stroke-width="2.0" stroke-opacity="0.78"/>
<line x1="544.9" y1="158.4" x2="544.9" y2="197.6" stroke="#EE3A6E" stroke-width="2.8" stroke-opacity="0.78"/>
<line x1="542.9" y1="159.4" x2="546.9" y2="159.4" stroke="#EE3A6E" stroke-width="2.0" stroke-opacity="0.78"/>
<line x1="542.9" y1="196.6" x2="546.9" y2="196.6" stroke="#EE3A6E" stroke-width="2.0" stroke-opacity="0.78"/>
<line x1="570.7" y1="159.1" x2="570.7" y2="200.5" stroke="#EE3A6E" stroke-width="2.8" stroke-opacity="0.78"/>
<line x1="568.7" y1="160.1" x2="572.7" y2="160.1" stroke="#EE3A6E" stroke-width="2.0" stroke-opacity="0.78"/>
<line x1="568.7" y1="199.5" x2="572.7" y2="199.5" stroke="#EE3A6E" stroke-width="2.0" stroke-opacity="0.78"/>
<polyline points="85.2,173 96,179 99.6,166 103.4,165 106.8,168 110.4,164 125.4,165.6 136.3,167 162,176 187.5,169 212.7,164.3 238.2,171.6 289.5,186.6 392,194.5 413,191.9 442.9,199.7 494,191.4 516.1,183.4 544.9,178.2 570.7,180.2" fill="none" stroke="#F2477A" stroke-width="1.5" stroke-linejoin="round" />
<circle cx="85.2" cy="159.2" r="2.45" fill="#F60D0D" stroke="#000" stroke-width="1.15"/>
<circle cx="86.5" cy="160.3" r="2.45" fill="#F60D0D" stroke="#000" stroke-width="1.15"/>
<circle cx="85.5" cy="175" r="2.45" fill="#F60D0D" stroke="#000" stroke-width="1.15"/>
<circle cx="85.5" cy="178.7" r="2.45" fill="#F60D0D" stroke="#000" stroke-width="1.15"/>
<circle cx="85" cy="181.8" r="2.45" fill="#F60D0D" stroke="#000" stroke-width="1.15"/>
<circle cx="96" cy="165" r="2.45" fill="#F60D0D" stroke="#000" stroke-width="1.15"/>
<circle cx="95.8" cy="172.8" r="2.45" fill="#F60D0D" stroke="#000" stroke-width="1.15"/>
<circle cx="96.1" cy="194.6" r="2.45" fill="#F60D0D" stroke="#000" stroke-width="1.15"/>
<circle cx="95.6" cy="205.6" r="2.45" fill="#F60D0D" stroke="#000" stroke-width="1.15"/>
<circle cx="100.2" cy="162" r="2.45" fill="#F60D0D" stroke="#000" stroke-width="1.15"/>
<circle cx="99.6" cy="166.2" r="2.45" fill="#F60D0D" stroke="#000" stroke-width="1.15"/>
<circle cx="102" cy="165.6" r="2.45" fill="#F60D0D" stroke="#000" stroke-width="1.15"/>
<circle cx="100.8" cy="170.4" r="2.45" fill="#F60D0D" stroke="#000" stroke-width="1.15"/>
<circle cx="99.6" cy="175.8" r="2.45" fill="#F60D0D" stroke="#000" stroke-width="1.15"/>
<circle cx="102.6" cy="172.8" r="2.45" fill="#F60D0D" stroke="#000" stroke-width="1.15"/>
<circle cx="104.4" cy="160.8" r="2.45" fill="#F60D0D" stroke="#000" stroke-width="1.15"/>
<circle cx="105.6" cy="163.8" r="2.45" fill="#F60D0D" stroke="#000" stroke-width="1.15"/>
<circle cx="105" cy="168.6" r="2.45" fill="#F60D0D" stroke="#000" stroke-width="1.15"/>
<circle cx="107.4" cy="172.2" r="2.45" fill="#F60D0D" stroke="#000" stroke-width="1.15"/>
<circle cx="107.4" cy="177" r="2.45" fill="#F60D0D" stroke="#000" stroke-width="1.15"/>
<circle cx="108" cy="162" r="2.45" fill="#F60D0D" stroke="#000" stroke-width="1.15"/>
<circle cx="111" cy="163.2" r="2.45" fill="#F60D0D" stroke="#000" stroke-width="1.15"/>
<circle cx="111" cy="169.2" r="2.45" fill="#F60D0D" stroke="#000" stroke-width="1.15"/>
<circle cx="106.8" cy="166.2" r="2.45" fill="#F60D0D" stroke="#000" stroke-width="1.15"/>
<circle cx="103.2" cy="163.2" r="2.45" fill="#F60D0D" stroke="#000" stroke-width="1.15"/>
<circle cx="125.3" cy="162.2" r="2.45" fill="#F60D0D" stroke="#000" stroke-width="1.15"/>
<circle cx="125.3" cy="165.6" r="2.45" fill="#F60D0D" stroke="#000" stroke-width="1.15"/>
<circle cx="125.3" cy="169" r="2.45" fill="#F60D0D" stroke="#000" stroke-width="1.15"/>
<circle cx="136.3" cy="162.2" r="2.45" fill="#F60D0D" stroke="#000" stroke-width="1.15"/>
<circle cx="135.8" cy="165.6" r="2.45" fill="#F60D0D" stroke="#000" stroke-width="1.15"/>
<circle cx="137.9" cy="168.2" r="2.45" fill="#F60D0D" stroke="#000" stroke-width="1.15"/>
<circle cx="135.2" cy="174.8" r="2.45" fill="#F60D0D" stroke="#000" stroke-width="1.15"/>
<circle cx="162.6" cy="170" r="2.45" fill="#F60D0D" stroke="#000" stroke-width="1.15"/>
<circle cx="162.6" cy="172.7" r="2.45" fill="#F60D0D" stroke="#000" stroke-width="1.15"/>
<circle cx="161.5" cy="179.5" r="2.45" fill="#F60D0D" stroke="#000" stroke-width="1.15"/>
<circle cx="162.6" cy="185.8" r="2.45" fill="#F60D0D" stroke="#000" stroke-width="1.15"/>
<circle cx="187.5" cy="157.7" r="2.45" fill="#F60D0D" stroke="#000" stroke-width="1.15"/>
<circle cx="188.8" cy="172.2" r="2.45" fill="#F60D0D" stroke="#000" stroke-width="1.15"/>
<circle cx="187" cy="176.1" r="2.45" fill="#F60D0D" stroke="#000" stroke-width="1.15"/>
<circle cx="188.8" cy="177.4" r="2.45" fill="#F60D0D" stroke="#000" stroke-width="1.15"/>
<circle cx="213.8" cy="157.2" r="2.45" fill="#F60D0D" stroke="#000" stroke-width="1.15"/>
<circle cx="212" cy="163" r="2.45" fill="#F60D0D" stroke="#000" stroke-width="1.15"/>
<circle cx="213.8" cy="164.3" r="2.45" fill="#F60D0D" stroke="#000" stroke-width="1.15"/>
<circle cx="212" cy="166.4" r="2.45" fill="#F60D0D" stroke="#000" stroke-width="1.15"/>
<circle cx="212" cy="178.2" r="2.45" fill="#F60D0D" stroke="#000" stroke-width="1.15"/>
<circle cx="237.7" cy="164.3" r="2.45" fill="#F60D0D" stroke="#000" stroke-width="1.15"/>
<circle cx="239.5" cy="166.9" r="2.45" fill="#F60D0D" stroke="#000" stroke-width="1.15"/>
<circle cx="237.7" cy="171.6" r="2.45" fill="#F60D0D" stroke="#000" stroke-width="1.15"/>
<circle cx="240.3" cy="171.6" r="2.45" fill="#F60D0D" stroke="#000" stroke-width="1.15"/>
<circle cx="239.5" cy="186.6" r="2.45" fill="#F60D0D" stroke="#000" stroke-width="1.15"/>
<circle cx="290" cy="170" r="2.45" fill="#F60D0D" stroke="#000" stroke-width="1.15"/>
<circle cx="289.5" cy="180.6" r="2.45" fill="#F60D0D" stroke="#000" stroke-width="1.15"/>
<circle cx="290.8" cy="182.1" r="2.45" fill="#F60D0D" stroke="#000" stroke-width="1.15"/>
<circle cx="290.8" cy="186.6" r="2.45" fill="#F60D0D" stroke="#000" stroke-width="1.15"/>
<circle cx="290.8" cy="193.7" r="2.45" fill="#F60D0D" stroke="#000" stroke-width="1.15"/>
<circle cx="288.7" cy="209.5" r="2.45" fill="#F60D0D" stroke="#000" stroke-width="1.15"/>
<circle cx="393.8" cy="180.6" r="2.45" fill="#F60D0D" stroke="#000" stroke-width="1.15"/>
<circle cx="393" cy="189.8" r="2.45" fill="#F60D0D" stroke="#000" stroke-width="1.15"/>
<circle cx="393.8" cy="192.6" r="2.45" fill="#F60D0D" stroke="#000" stroke-width="1.15"/>
<circle cx="391.2" cy="195.8" r="2.45" fill="#F60D0D" stroke="#000" stroke-width="1.15"/>
<circle cx="393.8" cy="216" r="2.45" fill="#F60D0D" stroke="#000" stroke-width="1.15"/>
<circle cx="413" cy="187.4" r="2.45" fill="#F60D0D" stroke="#000" stroke-width="1.15"/>
<circle cx="413" cy="197.1" r="2.45" fill="#F60D0D" stroke="#000" stroke-width="1.15"/>
<circle cx="442.9" cy="194" r="2.45" fill="#F60D0D" stroke="#000" stroke-width="1.15"/>
<circle cx="441.9" cy="198.4" r="2.45" fill="#F60D0D" stroke="#000" stroke-width="1.15"/>
<circle cx="443.4" cy="209.5" r="2.45" fill="#F60D0D" stroke="#000" stroke-width="1.15"/>
<circle cx="442.9" cy="225.4" r="2.45" fill="#F60D0D" stroke="#000" stroke-width="1.15"/>
<circle cx="494.5" cy="175.7" r="2.45" fill="#F60D0D" stroke="#000" stroke-width="1.15"/>
<circle cx="493.3" cy="183.4" r="2.45" fill="#F60D0D" stroke="#000" stroke-width="1.15"/>
<circle cx="495.8" cy="188.9" r="2.45" fill="#F60D0D" stroke="#000" stroke-width="1.15"/>
<circle cx="495.8" cy="192.1" r="2.45" fill="#F60D0D" stroke="#000" stroke-width="1.15"/>
<circle cx="493.8" cy="201.8" r="2.45" fill="#F60D0D" stroke="#000" stroke-width="1.15"/>
<circle cx="493.8" cy="216.2" r="2.45" fill="#F60D0D" stroke="#000" stroke-width="1.15"/>
<circle cx="516.9" cy="169.8" r="2.45" fill="#F60D0D" stroke="#000" stroke-width="1.15"/>
<circle cx="515.1" cy="177.7" r="2.45" fill="#F60D0D" stroke="#000" stroke-width="1.15"/>
<circle cx="516.1" cy="196.3" r="2.45" fill="#F60D0D" stroke="#000" stroke-width="1.15"/>
<circle cx="516.1" cy="208" r="2.45" fill="#F60D0D" stroke="#000" stroke-width="1.15"/>
<circle cx="516.1" cy="225.4" r="2.45" fill="#F60D0D" stroke="#000" stroke-width="1.15"/>
<circle cx="544.7" cy="162.3" r="2.45" fill="#F60D0D" stroke="#000" stroke-width="1.15"/>
<circle cx="546.7" cy="175.2" r="2.45" fill="#F60D0D" stroke="#000" stroke-width="1.15"/>
<circle cx="545.9" cy="181.4" r="2.45" fill="#F60D0D" stroke="#000" stroke-width="1.15"/>
<circle cx="546.7" cy="185.2" r="2.45" fill="#F60D0D" stroke="#000" stroke-width="1.15"/>
<circle cx="544.2" cy="188.9" r="2.45" fill="#F60D0D" stroke="#000" stroke-width="1.15"/>
<circle cx="570.7" cy="166.5" r="2.45" fill="#F60D0D" stroke="#000" stroke-width="1.15"/>
<circle cx="571" cy="173.2" r="2.45" fill="#F60D0D" stroke="#000" stroke-width="1.15"/>
<circle cx="570.7" cy="180.7" r="2.45" fill="#F60D0D" stroke="#000" stroke-width="1.15"/>
<circle cx="572" cy="190.1" r="2.45" fill="#F60D0D" stroke="#000" stroke-width="1.15"/>
<circle cx="570.7" cy="193.1" r="2.45" fill="#F60D0D" stroke="#000" stroke-width="1.15"/>
</g>
<line x1="59" y1="95.5" x2="63.2" y2="95.5" stroke="#1a1a1a" stroke-width="1.45" />
<line x1="59" y1="90.5" x2="63.2" y2="90.5" stroke="#1a1a1a" stroke-width="1.45" />
<line x1="59" y1="87.5" x2="66.6" y2="87.5" stroke="#1a1a1a" stroke-width="1.45" />
<line x1="59" y1="84.5" x2="63.2" y2="84.5" stroke="#1a1a1a" stroke-width="1.45" />
<line x1="59" y1="82.5" x2="63.2" y2="82.5" stroke="#1a1a1a" stroke-width="1.45" />
<line x1="59" y1="80.5" x2="63.2" y2="80.5" stroke="#1a1a1a" stroke-width="1.45" />
<line x1="59" y1="78.5" x2="63.2" y2="78.5" stroke="#1a1a1a" stroke-width="1.45" />
<line x1="59" y1="76.5" x2="70" y2="76.5" stroke="#1a1a1a" stroke-width="1.45" />
<line x1="59" y1="66.5" x2="63.2" y2="66.5" stroke="#1a1a1a" stroke-width="1.45" />
<line x1="59" y1="60.5" x2="63.2" y2="60.5" stroke="#1a1a1a" stroke-width="1.45" />
<line x1="59" y1="55.5" x2="63.2" y2="55.5" stroke="#1a1a1a" stroke-width="1.45" />
<line x1="59" y1="52.5" x2="66.6" y2="52.5" stroke="#1a1a1a" stroke-width="1.45" />
<line x1="59" y1="49.5" x2="63.2" y2="49.5" stroke="#1a1a1a" stroke-width="1.45" />
<line x1="59" y1="47.5" x2="63.2" y2="47.5" stroke="#1a1a1a" stroke-width="1.45" />
<line x1="59" y1="45.5" x2="63.2" y2="45.5" stroke="#1a1a1a" stroke-width="1.45" />
<line x1="59" y1="43.5" x2="63.2" y2="43.5" stroke="#1a1a1a" stroke-width="1.45" />
<line x1="59" y1="41.5" x2="70" y2="41.5" stroke="#1a1a1a" stroke-width="1.45" />
<line x1="59" y1="31.5" x2="63.2" y2="31.5" stroke="#1a1a1a" stroke-width="1.45" />
<line x1="59" y1="24.5" x2="63.2" y2="24.5" stroke="#1a1a1a" stroke-width="1.45" />
<line x1="59" y1="20.5" x2="63.2" y2="20.5" stroke="#1a1a1a" stroke-width="1.45" />
<line x1="59" y1="16.5" x2="66.6" y2="16.5" stroke="#1a1a1a" stroke-width="1.45" />
<line x1="59" y1="14.5" x2="63.2" y2="14.5" stroke="#1a1a1a" stroke-width="1.45" />
<line x1="59" y1="223.5" x2="70" y2="223.5" stroke="#1a1a1a" stroke-width="1.45" />
<line x1="59" y1="219.5" x2="63.2" y2="219.5" stroke="#1a1a1a" stroke-width="1.45" />
<line x1="59" y1="217.5" x2="63.2" y2="217.5" stroke="#1a1a1a" stroke-width="1.45" />
<line x1="59" y1="215.5" x2="63.2" y2="215.5" stroke="#1a1a1a" stroke-width="1.45" />
<line x1="59" y1="214.5" x2="66.6" y2="214.5" stroke="#1a1a1a" stroke-width="1.45" />
<line x1="59" y1="213.5" x2="63.2" y2="213.5" stroke="#1a1a1a" stroke-width="1.45" />
<line x1="59" y1="212.5" x2="63.2" y2="212.5" stroke="#1a1a1a" stroke-width="1.45" />
<line x1="59" y1="211.5" x2="63.2" y2="211.5" stroke="#1a1a1a" stroke-width="1.45" />
<line x1="59" y1="210.5" x2="63.2" y2="210.5" stroke="#1a1a1a" stroke-width="1.45" />
<line x1="59" y1="210.5" x2="70" y2="210.5" stroke="#1a1a1a" stroke-width="1.45" />
<line x1="59" y1="206.5" x2="63.2" y2="206.5" stroke="#1a1a1a" stroke-width="1.45" />
<line x1="59" y1="203.5" x2="63.2" y2="203.5" stroke="#1a1a1a" stroke-width="1.45" />
<line x1="59" y1="201.5" x2="63.2" y2="201.5" stroke="#1a1a1a" stroke-width="1.45" />
<line x1="59" y1="200.5" x2="66.6" y2="200.5" stroke="#1a1a1a" stroke-width="1.45" />
<line x1="59" y1="199.5" x2="63.2" y2="199.5" stroke="#1a1a1a" stroke-width="1.45" />
<line x1="59" y1="198.5" x2="63.2" y2="198.5" stroke="#1a1a1a" stroke-width="1.45" />
<line x1="59" y1="197.5" x2="63.2" y2="197.5" stroke="#1a1a1a" stroke-width="1.45" />
<line x1="59" y1="197.5" x2="63.2" y2="197.5" stroke="#1a1a1a" stroke-width="1.45" />
<line x1="59" y1="196.5" x2="70" y2="196.5" stroke="#1a1a1a" stroke-width="1.45" />
<line x1="59" y1="192.5" x2="63.2" y2="192.5" stroke="#1a1a1a" stroke-width="1.45" />
<line x1="59" y1="190.5" x2="63.2" y2="190.5" stroke="#1a1a1a" stroke-width="1.45" />
<line x1="59" y1="188.5" x2="63.2" y2="188.5" stroke="#1a1a1a" stroke-width="1.45" />
<line x1="59" y1="187.5" x2="66.6" y2="187.5" stroke="#1a1a1a" stroke-width="1.45" />
<line x1="59" y1="186.5" x2="63.2" y2="186.5" stroke="#1a1a1a" stroke-width="1.45" />
<line x1="59" y1="185.5" x2="63.2" y2="185.5" stroke="#1a1a1a" stroke-width="1.45" />
<line x1="59" y1="184.5" x2="63.2" y2="184.5" stroke="#1a1a1a" stroke-width="1.45" />
<line x1="59" y1="183.5" x2="63.2" y2="183.5" stroke="#1a1a1a" stroke-width="1.45" />
<line x1="59" y1="183.5" x2="70" y2="183.5" stroke="#1a1a1a" stroke-width="1.45" />
<line x1="59" y1="178.5" x2="63.2" y2="178.5" stroke="#1a1a1a" stroke-width="1.45" />
<line x1="59" y1="176.5" x2="63.2" y2="176.5" stroke="#1a1a1a" stroke-width="1.45" />
<line x1="59" y1="174.5" x2="63.2" y2="174.5" stroke="#1a1a1a" stroke-width="1.45" />
<line x1="59" y1="173.5" x2="66.6" y2="173.5" stroke="#1a1a1a" stroke-width="1.45" />
<line x1="59" y1="172.5" x2="63.2" y2="172.5" stroke="#1a1a1a" stroke-width="1.45" />
<line x1="59" y1="171.5" x2="63.2" y2="171.5" stroke="#1a1a1a" stroke-width="1.45" />
<line x1="59" y1="170.5" x2="63.2" y2="170.5" stroke="#1a1a1a" stroke-width="1.45" />
<line x1="59" y1="170.5" x2="63.2" y2="170.5" stroke="#1a1a1a" stroke-width="1.45" />
<line x1="59" y1="169.5" x2="70" y2="169.5" stroke="#1a1a1a" stroke-width="1.45" />
<line x1="59" y1="165.5" x2="63.2" y2="165.5" stroke="#1a1a1a" stroke-width="1.45" />
<line x1="59" y1="163.5" x2="63.2" y2="163.5" stroke="#1a1a1a" stroke-width="1.45" />
<line x1="59" y1="161.5" x2="63.2" y2="161.5" stroke="#1a1a1a" stroke-width="1.45" />
<line x1="59" y1="160.5" x2="66.6" y2="160.5" stroke="#1a1a1a" stroke-width="1.45" />
<line x1="59" y1="158.5" x2="63.2" y2="158.5" stroke="#1a1a1a" stroke-width="1.45" />
<line x1="59" y1="158.5" x2="63.2" y2="158.5" stroke="#1a1a1a" stroke-width="1.45" />
<line x1="59" y1="157.5" x2="63.2" y2="157.5" stroke="#1a1a1a" stroke-width="1.45" />
<line x1="59" y1="156.5" x2="63.2" y2="156.5" stroke="#1a1a1a" stroke-width="1.45" />
<line x1="59" y1="155.5" x2="70" y2="155.5" stroke="#1a1a1a" stroke-width="1.45" />
<line x1="59" y1="151.5" x2="63.2" y2="151.5" stroke="#1a1a1a" stroke-width="1.45" />
<line x1="59" y1="149.5" x2="63.2" y2="149.5" stroke="#1a1a1a" stroke-width="1.45" />
<line x1="59" y1="147.5" x2="63.2" y2="147.5" stroke="#1a1a1a" stroke-width="1.45" />
<line x1="59" y1="146.5" x2="66.6" y2="146.5" stroke="#1a1a1a" stroke-width="1.45" />
<line x1="59" y1="145.5" x2="63.2" y2="145.5" stroke="#1a1a1a" stroke-width="1.45" />
<line x1="59" y1="144.5" x2="63.2" y2="144.5" stroke="#1a1a1a" stroke-width="1.45" />
<line x1="59" y1="143.5" x2="63.2" y2="143.5" stroke="#1a1a1a" stroke-width="1.45" />
<line x1="59" y1="143.5" x2="63.2" y2="143.5" stroke="#1a1a1a" stroke-width="1.45" />
<line x1="59" y1="142.5" x2="70" y2="142.5" stroke="#1a1a1a" stroke-width="1.45" />
<text x="53.2" y="29.15" font-size="10.8" text-anchor="end" fill="#1c1c1c" stroke="#1c1c1c">10<tspan font-size="7.8" dx="-0.2" dy="-5.1">11.5</tspan></text>
<text x="53.2" y="46.8" font-size="10.8" text-anchor="end" fill="#1c1c1c" stroke="#1c1c1c">10<tspan font-size="7.8" dx="-0.2" dy="-5.1">11</tspan></text>
<text x="53.2" y="64.45" font-size="10.8" text-anchor="end" fill="#1c1c1c" stroke="#1c1c1c">10<tspan font-size="7.8" dx="-0.2" dy="-5.1">10.5</tspan></text>
<text x="53.2" y="82.1" font-size="10.8" text-anchor="end" fill="#1c1c1c" stroke="#1c1c1c">10<tspan font-size="7.8" dx="-0.2" dy="-5.1">10</tspan></text>
<text x="53.2" y="99.75" font-size="10.8" text-anchor="end" fill="#1c1c1c" stroke="#1c1c1c">10<tspan font-size="7.8" dx="-0.2" dy="-5.1">9.5</tspan></text>
<text x="53.2" y="229.1" font-size="10.8" text-anchor="end" fill="#1c1c1c" stroke="#1c1c1c">10<tspan font-size="7.8" dx="-0.2" dy="-5.1">3</tspan></text>
<text x="53.2" y="215.55" font-size="10.8" text-anchor="end" fill="#1c1c1c" stroke="#1c1c1c">10<tspan font-size="7.8" dx="-0.2" dy="-5.1">4</tspan></text>
<text x="53.2" y="202" font-size="10.8" text-anchor="end" fill="#1c1c1c" stroke="#1c1c1c">10<tspan font-size="7.8" dx="-0.2" dy="-5.1">5</tspan></text>
<text x="53.2" y="188.45" font-size="10.8" text-anchor="end" fill="#1c1c1c" stroke="#1c1c1c">10<tspan font-size="7.8" dx="-0.2" dy="-5.1">6</tspan></text>
<text x="53.2" y="174.9" font-size="10.8" text-anchor="end" fill="#1c1c1c" stroke="#1c1c1c">10<tspan font-size="7.8" dx="-0.2" dy="-5.1">7</tspan></text>
<text x="53.2" y="161.35" font-size="10.8" text-anchor="end" fill="#1c1c1c" stroke="#1c1c1c">10<tspan font-size="7.8" dx="-0.2" dy="-5.1">8</tspan></text>
<text x="53.2" y="147.8" font-size="10.8" text-anchor="end" fill="#1c1c1c" stroke="#1c1c1c">10<tspan font-size="7.8" dx="-0.2" dy="-5.1">9</tspan></text>
<text x="328.1" y="24.2" font-size="11" text-anchor="middle" fill="#000" stroke="#000" font-weight="normal" >bacteria</text>
<text x="328" y="151.7" font-size="11" text-anchor="middle" fill="#000" stroke="#000" font-weight="normal" >phage</text>
<text x="85.2" y="111" font-size="10.8" text-anchor="middle" fill="#1c1c1c" stroke="#1c1c1c" font-weight="normal" >3</text>
<text x="97.5" y="111" font-size="10.8" text-anchor="middle" fill="#1c1c1c" stroke="#1c1c1c" font-weight="normal" >7</text>
<text x="107.2" y="111" font-size="10.8" text-anchor="middle" fill="#1c1c1c" stroke="#1c1c1c" font-weight="normal" >9</text>
<text x="125.6" y="111" font-size="10.8" text-anchor="middle" fill="#1c1c1c" stroke="#1c1c1c" font-weight="normal" >14</text>
<text x="139.9" y="111" font-size="10.8" text-anchor="middle" fill="#1c1c1c" stroke="#1c1c1c" font-weight="normal" >17</text>
<text x="161.5" y="111" font-size="10.8" text-anchor="middle" fill="#1c1c1c" stroke="#1c1c1c" font-weight="normal" >24</text>
<text x="187.3" y="111" font-size="10.8" text-anchor="middle" fill="#1c1c1c" stroke="#1c1c1c" font-weight="normal" >31</text>
<text x="212.8" y="111" font-size="10.8" text-anchor="middle" fill="#1c1c1c" stroke="#1c1c1c" font-weight="normal" >38</text>
<text x="238.3" y="111" font-size="10.8" text-anchor="middle" fill="#1c1c1c" stroke="#1c1c1c" font-weight="normal" >45</text>
<text x="289.5" y="111" font-size="10.8" text-anchor="middle" fill="#1c1c1c" stroke="#1c1c1c" font-weight="normal" >59</text>
<text x="391.5" y="111" font-size="10.8" text-anchor="middle" fill="#1c1c1c" stroke="#1c1c1c" font-weight="normal" >87</text>
<text x="414" y="111" font-size="10.8" text-anchor="middle" fill="#1c1c1c" stroke="#1c1c1c" font-weight="normal" >93</text>
<text x="442.9" y="111" font-size="10.8" text-anchor="middle" fill="#1c1c1c" stroke="#1c1c1c" font-weight="normal" >101</text>
<text x="468.6" y="111" font-size="10.8" text-anchor="middle" fill="#1c1c1c" stroke="#1c1c1c" font-weight="normal" >108</text>
<text x="493.6" y="111" font-size="10.8" text-anchor="middle" fill="#1c1c1c" stroke="#1c1c1c" font-weight="normal" >115</text>
<text x="516.1" y="111" font-size="10.8" text-anchor="middle" fill="#1c1c1c" stroke="#1c1c1c" font-weight="normal" >121</text>
<text x="545" y="111" font-size="10.8" text-anchor="middle" fill="#1c1c1c" stroke="#1c1c1c" font-weight="normal" >129</text>
<text x="570.7" y="111" font-size="10.8" text-anchor="middle" fill="#1c1c1c" stroke="#1c1c1c" font-weight="normal" >136</text>
<text x="94.4" y="120.2" font-size="10.8" text-anchor="middle" fill="#1c1c1c" stroke="#1c1c1c" font-weight="normal" >6</text>
<text x="103.3" y="120.2" font-size="10.8" text-anchor="middle" fill="#1c1c1c" stroke="#1c1c1c" font-weight="normal" >8</text>
<text x="114.5" y="120.2" font-size="10.8" text-anchor="middle" fill="#1c1c1c" stroke="#1c1c1c" font-weight="normal" >10</text>
<text x="85.2" y="238.5" font-size="10.8" text-anchor="middle" fill="#1c1c1c" stroke="#1c1c1c" font-weight="normal" >3</text>
<text x="97.5" y="238.5" font-size="10.8" text-anchor="middle" fill="#1c1c1c" stroke="#1c1c1c" font-weight="normal" >7</text>
<text x="107.2" y="238.5" font-size="10.8" text-anchor="middle" fill="#1c1c1c" stroke="#1c1c1c" font-weight="normal" >9</text>
<text x="123.7" y="238.5" font-size="10.8" text-anchor="middle" fill="#1c1c1c" stroke="#1c1c1c" font-weight="normal" >14</text>
<text x="138.2" y="238.5" font-size="10.8" text-anchor="middle" fill="#1c1c1c" stroke="#1c1c1c" font-weight="normal" >17</text>
<text x="161.5" y="238.5" font-size="10.8" text-anchor="middle" fill="#1c1c1c" stroke="#1c1c1c" font-weight="normal" >24</text>
<text x="187.3" y="238.5" font-size="10.8" text-anchor="middle" fill="#1c1c1c" stroke="#1c1c1c" font-weight="normal" >31</text>
<text x="212.8" y="238.5" font-size="10.8" text-anchor="middle" fill="#1c1c1c" stroke="#1c1c1c" font-weight="normal" >38</text>
<text x="238.3" y="238.5" font-size="10.8" text-anchor="middle" fill="#1c1c1c" stroke="#1c1c1c" font-weight="normal" >45</text>
<text x="289.5" y="238.5" font-size="10.8" text-anchor="middle" fill="#1c1c1c" stroke="#1c1c1c" font-weight="normal" >59</text>
<text x="391.5" y="238.5" font-size="10.8" text-anchor="middle" fill="#1c1c1c" stroke="#1c1c1c" font-weight="normal" >87</text>
<text x="414" y="238.5" font-size="10.8" text-anchor="middle" fill="#1c1c1c" stroke="#1c1c1c" font-weight="normal" >93</text>
<text x="442.9" y="238.5" font-size="10.8" text-anchor="middle" fill="#1c1c1c" stroke="#1c1c1c" font-weight="normal" >101</text>
<text x="468.6" y="238.5" font-size="10.8" text-anchor="middle" fill="#1c1c1c" stroke="#1c1c1c" font-weight="normal" >108</text>
<text x="493.6" y="238.5" font-size="10.8" text-anchor="middle" fill="#1c1c1c" stroke="#1c1c1c" font-weight="normal" >115</text>
<text x="516.1" y="238.5" font-size="10.8" text-anchor="middle" fill="#1c1c1c" stroke="#1c1c1c" font-weight="normal" >121</text>
<text x="545" y="238.5" font-size="10.8" text-anchor="middle" fill="#1c1c1c" stroke="#1c1c1c" font-weight="normal" >129</text>
<text x="570.7" y="238.5" font-size="10.8" text-anchor="middle" fill="#1c1c1c" stroke="#1c1c1c" font-weight="normal" >136</text>
<text x="94.4" y="247.7" font-size="10.8" text-anchor="middle" fill="#1c1c1c" stroke="#1c1c1c" font-weight="normal" >6</text>
<text x="103.3" y="247.7" font-size="10.8" text-anchor="middle" fill="#1c1c1c" stroke="#1c1c1c" font-weight="normal" >8</text>
<text x="114.5" y="247.7" font-size="10.8" text-anchor="middle" fill="#1c1c1c" stroke="#1c1c1c" font-weight="normal" >10</text>
<text x="328" y="250.4" font-size="13.3" text-anchor="middle" fill="#000" stroke="#000" font-weight="normal" >day</text>
<text transform="translate(20.1,120) rotate(-90)" font-size="13.6" text-anchor="middle" fill="#000" stroke="#000">Titer: pfu/g, cfu/g</text>
<text x="617.3" y="99.3" font-size="13.3" text-anchor="start" fill="#000" stroke="#000" font-weight="normal" >group</text>
<line x1="619" y1="118.7" x2="636.2" y2="118.7" stroke="#F2477A" stroke-width="2.8" />
<circle cx="627.6" cy="118.7" r="2.35" fill="#F60D0D" stroke="#000" stroke-width="1.1"/>
<text x="645.5" y="122" font-size="10.9" text-anchor="start" fill="#000" stroke="#000" font-weight="normal" >phage</text>
<line x1="619" y1="139.6" x2="636.2" y2="139.6" stroke="#40DC88" stroke-width="2.8" />
<circle cx="627.6" cy="139.6" r="2.35" fill="#16D35A" stroke="#000" stroke-width="1.1"/>
<text x="645.5" y="143.4" font-size="10.9" text-anchor="start" fill="#000" stroke="#000" font-weight="normal" >control</text>
<text x="-0.6" y="11.8" font-size="22.7" text-anchor="start" fill="#000" font-weight="bold" >a</text>
<text x="-0.6" y="268" font-size="22.7" text-anchor="start" fill="#000" font-weight="bold" >b</text>
<text x="357.9" y="267.6" font-size="22.7" text-anchor="start" fill="#000" font-weight="bold" >c</text>
<line x1="53.3" y1="467.8" x2="341" y2="467.8" stroke="#E4EAEA" stroke-width="1.1" />
<line x1="53.3" y1="449.9" x2="341" y2="449.9" stroke="#E4EAEA" stroke-width="1.1" />
<line x1="53.3" y1="432" x2="341" y2="432" stroke="#E4EAEA" stroke-width="1.1" />
<line x1="53.3" y1="414.1" x2="341" y2="414.1" stroke="#E4EAEA" stroke-width="1.1" />
<line x1="53.3" y1="396.2" x2="341" y2="396.2" stroke="#E4EAEA" stroke-width="1.1" />
<line x1="53.3" y1="378.3" x2="341" y2="378.3" stroke="#E4EAEA" stroke-width="1.1" />
<line x1="53.3" y1="360.4" x2="341" y2="360.4" stroke="#E4EAEA" stroke-width="1.1" />
<line x1="53.3" y1="342.5" x2="341" y2="342.5" stroke="#E4EAEA" stroke-width="1.1" />
<line x1="53.3" y1="324.6" x2="341" y2="324.6" stroke="#E4EAEA" stroke-width="1.1" />
<line x1="53.3" y1="306.7" x2="341" y2="306.7" stroke="#E4EAEA" stroke-width="1.1" />
<line x1="53.3" y1="288.8" x2="341" y2="288.8" stroke="#E4EAEA" stroke-width="1.1" />
<line x1="53.3" y1="270.9" x2="341" y2="270.9" stroke="#E4EAEA" stroke-width="1.1" />
<line x1="66.4" y1="270.2" x2="66.4" y2="477.6" stroke="#E4EAEA" stroke-width="1.1" />
<line x1="88.22" y1="270.2" x2="88.22" y2="477.6" stroke="#E4EAEA" stroke-width="1.1" />
<line x1="110.04" y1="270.2" x2="110.04" y2="477.6" stroke="#E4EAEA" stroke-width="1.1" />
<line x1="131.86" y1="270.2" x2="131.86" y2="477.6" stroke="#E4EAEA" stroke-width="1.1" />
<line x1="153.68" y1="270.2" x2="153.68" y2="477.6" stroke="#E4EAEA" stroke-width="1.1" />
<line x1="175.5" y1="270.2" x2="175.5" y2="477.6" stroke="#E4EAEA" stroke-width="1.1" />
<line x1="197.32" y1="270.2" x2="197.32" y2="477.6" stroke="#E4EAEA" stroke-width="1.1" />
<line x1="219.14" y1="270.2" x2="219.14" y2="477.6" stroke="#E4EAEA" stroke-width="1.1" />
<line x1="240.96" y1="270.2" x2="240.96" y2="477.6" stroke="#E4EAEA" stroke-width="1.1" />
<line x1="262.78" y1="270.2" x2="262.78" y2="477.6" stroke="#E4EAEA" stroke-width="1.1" />
<line x1="284.6" y1="270.2" x2="284.6" y2="477.6" stroke="#E4EAEA" stroke-width="1.1" />
<line x1="306.42" y1="270.2" x2="306.42" y2="477.6" stroke="#E4EAEA" stroke-width="1.1" />
<line x1="328.24" y1="270.2" x2="328.24" y2="477.6" stroke="#E4EAEA" stroke-width="1.1" />
<line x1="66.4" y1="362" x2="66.4" y2="362" stroke="#6C9E9E" stroke-width="2.8" />
<line x1="56.4" y1="362" x2="76.4" y2="362" stroke="#6C9E9E" stroke-width="2.8" />
<line x1="56.4" y1="362" x2="76.4" y2="362" stroke="#6C9E9E" stroke-width="2.8" />
<line x1="88.22" y1="390.2" x2="88.22" y2="399.5" stroke="#6C9E9E" stroke-width="2.8" />
<line x1="78.22" y1="390.2" x2="98.22" y2="390.2" stroke="#6C9E9E" stroke-width="2.8" />
<line x1="78.22" y1="399.5" x2="98.22" y2="399.5" stroke="#6C9E9E" stroke-width="2.8" />
<line x1="110.04" y1="411.9" x2="110.04" y2="415.8" stroke="#6C9E9E" stroke-width="2.8" />
<line x1="100.04" y1="411.9" x2="120.04" y2="411.9" stroke="#6C9E9E" stroke-width="2.8" />
<line x1="100.04" y1="415.8" x2="120.04" y2="415.8" stroke="#6C9E9E" stroke-width="2.8" />
<line x1="131.86" y1="381.2" x2="131.86" y2="436.7" stroke="#6C9E9E" stroke-width="2.8" />
<line x1="121.86" y1="381.2" x2="141.86" y2="381.2" stroke="#6C9E9E" stroke-width="2.8" />
<line x1="121.86" y1="436.7" x2="141.86" y2="436.7" stroke="#6C9E9E" stroke-width="2.8" />
<line x1="153.68" y1="399.1" x2="153.68" y2="418.1" stroke="#6C9E9E" stroke-width="2.8" />
<line x1="143.68" y1="399.1" x2="163.68" y2="399.1" stroke="#6C9E9E" stroke-width="2.8" />
<line x1="143.68" y1="418.1" x2="163.68" y2="418.1" stroke="#6C9E9E" stroke-width="2.8" />
<line x1="175.5" y1="374.2" x2="175.5" y2="411.9" stroke="#6C9E9E" stroke-width="2.8" />
<line x1="165.5" y1="374.2" x2="185.5" y2="374.2" stroke="#6C9E9E" stroke-width="2.8" />
<line x1="165.5" y1="411.9" x2="185.5" y2="411.9" stroke="#6C9E9E" stroke-width="2.8" />
<line x1="197.32" y1="383.4" x2="197.32" y2="468.3" stroke="#6C9E9E" stroke-width="2.8" />
<line x1="187.32" y1="383.4" x2="207.32" y2="383.4" stroke="#6C9E9E" stroke-width="2.8" />
<line x1="187.32" y1="468.3" x2="207.32" y2="468.3" stroke="#6C9E9E" stroke-width="2.8" />
<line x1="219.14" y1="405" x2="219.14" y2="430.5" stroke="#6C9E9E" stroke-width="2.8" />
<line x1="209.14" y1="405" x2="229.14" y2="405" stroke="#6C9E9E" stroke-width="2.8" />
<line x1="209.14" y1="430.5" x2="229.14" y2="430.5" stroke="#6C9E9E" stroke-width="2.8" />
<line x1="240.96" y1="397.2" x2="240.96" y2="412.8" stroke="#6C9E9E" stroke-width="2.8" />
<line x1="230.96" y1="397.2" x2="250.96" y2="397.2" stroke="#6C9E9E" stroke-width="2.8" />
<line x1="230.96" y1="412.8" x2="250.96" y2="412.8" stroke="#6C9E9E" stroke-width="2.8" />
<line x1="262.78" y1="352.4" x2="262.78" y2="362" stroke="#6C9E9E" stroke-width="2.8" />
<line x1="252.78" y1="352.4" x2="272.78" y2="352.4" stroke="#6C9E9E" stroke-width="2.8" />
<line x1="252.78" y1="362" x2="272.78" y2="362" stroke="#6C9E9E" stroke-width="2.8" />
<line x1="284.6" y1="370.2" x2="284.6" y2="381.5" stroke="#6C9E9E" stroke-width="2.8" />
<line x1="274.6" y1="370.2" x2="294.6" y2="370.2" stroke="#6C9E9E" stroke-width="2.8" />
<line x1="274.6" y1="381.5" x2="294.6" y2="381.5" stroke="#6C9E9E" stroke-width="2.8" />
<line x1="306.42" y1="350.5" x2="306.42" y2="397.6" stroke="#6C9E9E" stroke-width="2.8" />
<line x1="296.42" y1="350.5" x2="316.42" y2="350.5" stroke="#6C9E9E" stroke-width="2.8" />
<line x1="296.42" y1="397.6" x2="316.42" y2="397.6" stroke="#6C9E9E" stroke-width="2.8" />
<line x1="328.24" y1="380" x2="328.24" y2="385.7" stroke="#6C9E9E" stroke-width="2.8" />
<line x1="318.24" y1="380" x2="338.24" y2="380" stroke="#6C9E9E" stroke-width="2.8" />
<line x1="318.24" y1="385.7" x2="338.24" y2="385.7" stroke="#6C9E9E" stroke-width="2.8" />
<line x1="66.4" y1="362.8" x2="66.4" y2="362.8" stroke="#D00000" stroke-width="2.8" />
<line x1="56.4" y1="362.8" x2="76.4" y2="362.8" stroke="#D00000" stroke-width="2.8" />
<line x1="56.4" y1="362.8" x2="76.4" y2="362.8" stroke="#D00000" stroke-width="2.8" />
<line x1="88.22" y1="371.5" x2="88.22" y2="463.8" stroke="#D00000" stroke-width="2.8" />
<line x1="78.22" y1="371.5" x2="98.22" y2="371.5" stroke="#D00000" stroke-width="2.8" />
<line x1="78.22" y1="463.8" x2="98.22" y2="463.8" stroke="#D00000" stroke-width="2.8" />
<line x1="175.5" y1="359.3" x2="175.5" y2="463.4" stroke="#D00000" stroke-width="2.8" />
<line x1="165.5" y1="359.3" x2="185.5" y2="359.3" stroke="#D00000" stroke-width="2.8" />
<line x1="165.5" y1="463.4" x2="185.5" y2="463.4" stroke="#D00000" stroke-width="2.8" />
<line x1="219.14" y1="344.9" x2="219.14" y2="379.6" stroke="#D00000" stroke-width="2.8" />
<line x1="209.14" y1="344.9" x2="229.14" y2="344.9" stroke="#D00000" stroke-width="2.8" />
<line x1="209.14" y1="379.6" x2="229.14" y2="379.6" stroke="#D00000" stroke-width="2.8" />
<line x1="240.96" y1="279.9" x2="240.96" y2="291.8" stroke="#D00000" stroke-width="2.8" />
<line x1="230.96" y1="279.9" x2="250.96" y2="279.9" stroke="#D00000" stroke-width="2.8" />
<line x1="230.96" y1="291.8" x2="250.96" y2="291.8" stroke="#D00000" stroke-width="2.8" />
<line x1="262.78" y1="345.4" x2="262.78" y2="369.7" stroke="#D00000" stroke-width="2.8" />
<line x1="252.78" y1="345.4" x2="272.78" y2="345.4" stroke="#D00000" stroke-width="2.8" />
<line x1="252.78" y1="369.7" x2="272.78" y2="369.7" stroke="#D00000" stroke-width="2.8" />
<line x1="284.6" y1="394.2" x2="284.6" y2="402.7" stroke="#D00000" stroke-width="2.8" />
<line x1="274.6" y1="394.2" x2="294.6" y2="394.2" stroke="#D00000" stroke-width="2.8" />
<line x1="274.6" y1="402.7" x2="294.6" y2="402.7" stroke="#D00000" stroke-width="2.8" />
<line x1="306.42" y1="393.4" x2="306.42" y2="412" stroke="#D00000" stroke-width="2.8" />
<line x1="296.42" y1="393.4" x2="316.42" y2="393.4" stroke="#D00000" stroke-width="2.8" />
<line x1="296.42" y1="412" x2="316.42" y2="412" stroke="#D00000" stroke-width="2.8" />
<line x1="328.24" y1="377.2" x2="328.24" y2="426.5" stroke="#D00000" stroke-width="2.8" />
<line x1="318.24" y1="377.2" x2="338.24" y2="377.2" stroke="#D00000" stroke-width="2.8" />
<line x1="318.24" y1="426.5" x2="338.24" y2="426.5" stroke="#D00000" stroke-width="2.8" />
<polyline points="66.4,362 88.22,392 110.04,413.5 131.86,409.5 153.68,408.4 175.5,393.5 197.32,425 219.14,418 240.96,407 262.78,363 284.6,376.4 306.42,373.3 328.24,380.6" fill="none" stroke="#6C9E9E" stroke-width="1.6" stroke-linejoin="round" />
<polyline points="66.4,362.8 88.22,417.3 175.5,411.9 219.14,367.8 240.96,287 262.78,358 284.6,398.5 306.42,402.7 328.24,401.9" fill="none" stroke="#D00000" stroke-width="1.6" stroke-linejoin="round" />
<circle cx="57.5" cy="362.8" r="2.7" fill="#DD0000" stroke="#000" stroke-width="1.0"/>
<circle cx="82.7" cy="392" r="2.7" fill="#DD0000" stroke="#000" stroke-width="1.0"/>
<circle cx="91.9" cy="424.7" r="2.7" fill="#DD0000" stroke="#000" stroke-width="1.0"/>
<circle cx="91.9" cy="436.9" r="2.7" fill="#DD0000" stroke="#000" stroke-width="1.0"/>
<circle cx="182.4" cy="382.4" r="2.7" fill="#DD0000" stroke="#000" stroke-width="1.0"/>
<circle cx="167.8" cy="425.1" r="2.7" fill="#DD0000" stroke="#000" stroke-width="1.0"/>
<circle cx="181.7" cy="428.8" r="2.7" fill="#DD0000" stroke="#000" stroke-width="1.0"/>
<circle cx="211.8" cy="352.6" r="2.7" fill="#DD0000" stroke="#000" stroke-width="1.0"/>
<circle cx="215.2" cy="368" r="2.7" fill="#DD0000" stroke="#000" stroke-width="1.0"/>
<circle cx="220.2" cy="368" r="2.7" fill="#DD0000" stroke="#000" stroke-width="1.0"/>
<circle cx="233.4" cy="289.8" r="2.7" fill="#DD0000" stroke="#000" stroke-width="1.0"/>
<circle cx="238.3" cy="286.1" r="2.7" fill="#DD0000" stroke="#000" stroke-width="1.0"/>
<circle cx="243.3" cy="284.1" r="2.7" fill="#DD0000" stroke="#000" stroke-width="1.0"/>
<circle cx="255.5" cy="350.8" r="2.7" fill="#DD0000" stroke="#000" stroke-width="1.0"/>
<circle cx="256.6" cy="361.7" r="2.7" fill="#DD0000" stroke="#000" stroke-width="1.0"/>
<circle cx="267.9" cy="361.7" r="2.7" fill="#DD0000" stroke="#000" stroke-width="1.0"/>
<circle cx="280.3" cy="397.6" r="2.7" fill="#DD0000" stroke="#000" stroke-width="1.0"/>
<circle cx="284.9" cy="401.9" r="2.7" fill="#DD0000" stroke="#000" stroke-width="1.0"/>
<circle cx="292.2" cy="398" r="2.7" fill="#DD0000" stroke="#000" stroke-width="1.0"/>
<circle cx="310" cy="398.8" r="2.7" fill="#DD0000" stroke="#000" stroke-width="1.0"/>
<circle cx="300" cy="403.2" r="2.7" fill="#DD0000" stroke="#000" stroke-width="1.0"/>
<circle cx="300.7" cy="408.1" r="2.7" fill="#DD0000" stroke="#000" stroke-width="1.0"/>
<circle cx="325.8" cy="392.9" r="2.7" fill="#DD0000" stroke="#000" stroke-width="1.0"/>
<circle cx="336" cy="398" r="2.7" fill="#DD0000" stroke="#000" stroke-width="1.0"/>
<circle cx="330.4" cy="416.2" r="2.7" fill="#DD0000" stroke="#000" stroke-width="1.0"/>
<circle cx="67.6" cy="361.7" r="2.7" fill="#78AAAA" stroke="#000" stroke-width="1.0"/>
<circle cx="69.9" cy="362.1" r="2.7" fill="#78AAAA" stroke="#000" stroke-width="1.0"/>
<circle cx="71.5" cy="362.8" r="2.7" fill="#78AAAA" stroke="#000" stroke-width="1.0"/>
<circle cx="89" cy="392.7" r="2.7" fill="#78AAAA" stroke="#000" stroke-width="1.0"/>
<circle cx="91.9" cy="396.3" r="2.7" fill="#78AAAA" stroke="#000" stroke-width="1.0"/>
<circle cx="96" cy="397.2" r="2.7" fill="#78AAAA" stroke="#000" stroke-width="1.0"/>
<circle cx="110.4" cy="414.9" r="2.7" fill="#78AAAA" stroke="#000" stroke-width="1.0"/>
<circle cx="113.5" cy="414.2" r="2.7" fill="#78AAAA" stroke="#000" stroke-width="1.0"/>
<circle cx="115.1" cy="413" r="2.7" fill="#78AAAA" stroke="#000" stroke-width="1.0"/>
<circle cx="126" cy="394" r="2.7" fill="#78AAAA" stroke="#000" stroke-width="1.0"/>
<circle cx="124.4" cy="420.5" r="2.7" fill="#78AAAA" stroke="#000" stroke-width="1.0"/>
<circle cx="130.6" cy="414.9" r="2.7" fill="#78AAAA" stroke="#000" stroke-width="1.0"/>
<circle cx="146.4" cy="404.9" r="2.7" fill="#78AAAA" stroke="#000" stroke-width="1.0"/>
<circle cx="148.3" cy="407.9" r="2.7" fill="#78AAAA" stroke="#000" stroke-width="1.0"/>
<circle cx="155.7" cy="414.9" r="2.7" fill="#78AAAA" stroke="#000" stroke-width="1.0"/>
<circle cx="167.5" cy="384" r="2.7" fill="#78AAAA" stroke="#000" stroke-width="1.0"/>
<circle cx="178.9" cy="395.6" r="2.7" fill="#78AAAA" stroke="#000" stroke-width="1.0"/>
<circle cx="180.1" cy="402.6" r="2.7" fill="#78AAAA" stroke="#000" stroke-width="1.0"/>
<circle cx="188.4" cy="410.8" r="2.7" fill="#78AAAA" stroke="#000" stroke-width="1.0"/>
<circle cx="199.4" cy="418" r="2.7" fill="#78AAAA" stroke="#000" stroke-width="1.0"/>
<circle cx="195.3" cy="450.4" r="2.7" fill="#78AAAA" stroke="#000" stroke-width="1.0"/>
<circle cx="216" cy="413" r="2.7" fill="#78AAAA" stroke="#000" stroke-width="1.0"/>
<circle cx="217.8" cy="416.2" r="2.7" fill="#78AAAA" stroke="#000" stroke-width="1.0"/>
<circle cx="225" cy="425.4" r="2.7" fill="#78AAAA" stroke="#000" stroke-width="1.0"/>
<circle cx="236.6" cy="408.4" r="2.7" fill="#78AAAA" stroke="#000" stroke-width="1.0"/>
<circle cx="237.6" cy="407.6" r="2.7" fill="#78AAAA" stroke="#000" stroke-width="1.0"/>
<circle cx="240" cy="400.9" r="2.7" fill="#78AAAA" stroke="#000" stroke-width="1.0"/>
<circle cx="258.2" cy="358.6" r="2.7" fill="#78AAAA" stroke="#000" stroke-width="1.0"/>
<circle cx="258.9" cy="360.9" r="2.7" fill="#78AAAA" stroke="#000" stroke-width="1.0"/>
<circle cx="263.9" cy="366.6" r="2.7" fill="#78AAAA" stroke="#000" stroke-width="1.0"/>
<circle cx="277.5" cy="374.4" r="2.7" fill="#78AAAA" stroke="#000" stroke-width="1.0"/>
<circle cx="277.2" cy="379" r="2.7" fill="#78AAAA" stroke="#000" stroke-width="1.0"/>
<circle cx="310" cy="363.2" r="2.7" fill="#78AAAA" stroke="#000" stroke-width="1.0"/>
<circle cx="306.1" cy="373.3" r="2.7" fill="#78AAAA" stroke="#000" stroke-width="1.0"/>
<circle cx="306.6" cy="386.4" r="2.7" fill="#78AAAA" stroke="#000" stroke-width="1.0"/>
<circle cx="322.1" cy="384.9" r="2.7" fill="#78AAAA" stroke="#000" stroke-width="1.0"/>
<circle cx="330.4" cy="380.6" r="2.7" fill="#78AAAA" stroke="#000" stroke-width="1.0"/>
<circle cx="333.2" cy="380.6" r="2.7" fill="#78AAAA" stroke="#000" stroke-width="1.0"/>
<clipPath id="cb"><rect x="53.3" y="270.2" width="287.7" height="207.40000000000003"/></clipPath>
<g clip-path="url(#cb)"><circle cx="292.2" cy="478.2" r="2.7" fill="#78AAAA" stroke="#000" stroke-width="0.9"/></g>
<line x1="53.3" y1="474.5" x2="57.3" y2="474.5" stroke="#1a1a1a" stroke-width="1.45" />
<line x1="53.3" y1="468.5" x2="57.3" y2="468.5" stroke="#1a1a1a" stroke-width="1.45" />
<line x1="53.3" y1="464.5" x2="57.3" y2="464.5" stroke="#1a1a1a" stroke-width="1.45" />
<line x1="53.3" y1="460.5" x2="60.3" y2="460.5" stroke="#1a1a1a" stroke-width="1.45" />
<line x1="53.3" y1="457.5" x2="57.3" y2="457.5" stroke="#1a1a1a" stroke-width="1.45" />
<line x1="53.3" y1="455.5" x2="57.3" y2="455.5" stroke="#1a1a1a" stroke-width="1.45" />
<line x1="53.3" y1="453.5" x2="57.3" y2="453.5" stroke="#1a1a1a" stroke-width="1.45" />
<line x1="53.3" y1="451.5" x2="57.3" y2="451.5" stroke="#1a1a1a" stroke-width="1.45" />
<line x1="53.3" y1="449.5" x2="63.3" y2="449.5" stroke="#1a1a1a" stroke-width="1.45" />
<line x1="53.3" y1="439.5" x2="57.3" y2="439.5" stroke="#1a1a1a" stroke-width="1.45" />
<line x1="53.3" y1="432.5" x2="57.3" y2="432.5" stroke="#1a1a1a" stroke-width="1.45" />
<line x1="53.3" y1="428.5" x2="57.3" y2="428.5" stroke="#1a1a1a" stroke-width="1.45" />
<line x1="53.3" y1="424.5" x2="60.3" y2="424.5" stroke="#1a1a1a" stroke-width="1.45" />
<line x1="53.3" y1="422.5" x2="57.3" y2="422.5" stroke="#1a1a1a" stroke-width="1.45" />
<line x1="53.3" y1="419.5" x2="57.3" y2="419.5" stroke="#1a1a1a" stroke-width="1.45" />
<line x1="53.3" y1="417.5" x2="57.3" y2="417.5" stroke="#1a1a1a" stroke-width="1.45" />
<line x1="53.3" y1="415.5" x2="57.3" y2="415.5" stroke="#1a1a1a" stroke-width="1.45" />
<line x1="53.3" y1="414.5" x2="63.3" y2="414.5" stroke="#1a1a1a" stroke-width="1.45" />
<line x1="53.3" y1="403.5" x2="57.3" y2="403.5" stroke="#1a1a1a" stroke-width="1.45" />
<line x1="53.3" y1="397.5" x2="57.3" y2="397.5" stroke="#1a1a1a" stroke-width="1.45" />
<line x1="53.3" y1="392.5" x2="57.3" y2="392.5" stroke="#1a1a1a" stroke-width="1.45" />
<line x1="53.3" y1="389.5" x2="60.3" y2="389.5" stroke="#1a1a1a" stroke-width="1.45" />
<line x1="53.3" y1="386.5" x2="57.3" y2="386.5" stroke="#1a1a1a" stroke-width="1.45" />
<line x1="53.3" y1="383.5" x2="57.3" y2="383.5" stroke="#1a1a1a" stroke-width="1.45" />
<line x1="53.3" y1="381.5" x2="57.3" y2="381.5" stroke="#1a1a1a" stroke-width="1.45" />
<line x1="53.3" y1="379.5" x2="57.3" y2="379.5" stroke="#1a1a1a" stroke-width="1.45" />
<line x1="53.3" y1="378.5" x2="63.3" y2="378.5" stroke="#1a1a1a" stroke-width="1.45" />
<line x1="53.3" y1="367.5" x2="57.3" y2="367.5" stroke="#1a1a1a" stroke-width="1.45" />
<line x1="53.3" y1="361.5" x2="57.3" y2="361.5" stroke="#1a1a1a" stroke-width="1.45" />
<line x1="53.3" y1="356.5" x2="57.3" y2="356.5" stroke="#1a1a1a" stroke-width="1.45" />
<line x1="53.3" y1="353.5" x2="60.3" y2="353.5" stroke="#1a1a1a" stroke-width="1.45" />
<line x1="53.3" y1="350.5" x2="57.3" y2="350.5" stroke="#1a1a1a" stroke-width="1.45" />
<line x1="53.3" y1="348.5" x2="57.3" y2="348.5" stroke="#1a1a1a" stroke-width="1.45" />
<line x1="53.3" y1="345.5" x2="57.3" y2="345.5" stroke="#1a1a1a" stroke-width="1.45" />
<line x1="53.3" y1="344.5" x2="57.3" y2="344.5" stroke="#1a1a1a" stroke-width="1.45" />
<line x1="53.3" y1="342.5" x2="63.3" y2="342.5" stroke="#1a1a1a" stroke-width="1.45" />
<line x1="53.3" y1="331.5" x2="57.3" y2="331.5" stroke="#1a1a1a" stroke-width="1.45" />
<line x1="53.3" y1="325.5" x2="57.3" y2="325.5" stroke="#1a1a1a" stroke-width="1.45" />
<line x1="53.3" y1="320.5" x2="57.3" y2="320.5" stroke="#1a1a1a" stroke-width="1.45" />
<line x1="53.3" y1="317.5" x2="60.3" y2="317.5" stroke="#1a1a1a" stroke-width="1.45" />
<line x1="53.3" y1="314.5" x2="57.3" y2="314.5" stroke="#1a1a1a" stroke-width="1.45" />
<line x1="53.3" y1="312.5" x2="57.3" y2="312.5" stroke="#1a1a1a" stroke-width="1.45" />
<line x1="53.3" y1="310.5" x2="57.3" y2="310.5" stroke="#1a1a1a" stroke-width="1.45" />
<line x1="53.3" y1="308.5" x2="57.3" y2="308.5" stroke="#1a1a1a" stroke-width="1.45" />
<line x1="53.3" y1="306.5" x2="63.3" y2="306.5" stroke="#1a1a1a" stroke-width="1.45" />
<line x1="53.3" y1="295.5" x2="57.3" y2="295.5" stroke="#1a1a1a" stroke-width="1.45" />
<line x1="53.3" y1="289.5" x2="57.3" y2="289.5" stroke="#1a1a1a" stroke-width="1.45" />
<line x1="53.3" y1="285.5" x2="57.3" y2="285.5" stroke="#1a1a1a" stroke-width="1.45" />
<line x1="53.3" y1="281.5" x2="60.3" y2="281.5" stroke="#1a1a1a" stroke-width="1.45" />
<line x1="53.3" y1="278.5" x2="57.3" y2="278.5" stroke="#1a1a1a" stroke-width="1.45" />
<line x1="53.3" y1="276.5" x2="57.3" y2="276.5" stroke="#1a1a1a" stroke-width="1.45" />
<line x1="53.3" y1="274.5" x2="57.3" y2="274.5" stroke="#1a1a1a" stroke-width="1.45" />
<line x1="53.3" y1="272.5" x2="57.3" y2="272.5" stroke="#1a1a1a" stroke-width="1.45" />
<line x1="53.3" y1="270.5" x2="63.3" y2="270.5" stroke="#1a1a1a" stroke-width="1.45" />
<text x="47" y="455.3" font-size="10.8" text-anchor="end" fill="#1c1c1c" stroke="#1c1c1c">10<tspan font-size="7.8" dx="-0.2" dy="-5.1">6</tspan></text>
<text x="47" y="419.5" font-size="10.8" text-anchor="end" fill="#1c1c1c" stroke="#1c1c1c">10<tspan font-size="7.8" dx="-0.2" dy="-5.1">7</tspan></text>
<text x="47" y="383.7" font-size="10.8" text-anchor="end" fill="#1c1c1c" stroke="#1c1c1c">10<tspan font-size="7.8" dx="-0.2" dy="-5.1">8</tspan></text>
<text x="47" y="347.9" font-size="10.8" text-anchor="end" fill="#1c1c1c" stroke="#1c1c1c">10<tspan font-size="7.8" dx="-0.2" dy="-5.1">9</tspan></text>
<text x="47" y="312.1" font-size="10.8" text-anchor="end" fill="#1c1c1c" stroke="#1c1c1c">10<tspan font-size="7.8" dx="-0.2" dy="-5.1">10</tspan></text>
<text x="47" y="276.3" font-size="10.8" text-anchor="end" fill="#1c1c1c" stroke="#1c1c1c">10<tspan font-size="7.8" dx="-0.2" dy="-5.1">11</tspan></text>
<text transform="translate(20.1,374.1) rotate(-90)" font-size="13.6" text-anchor="middle" fill="#000" stroke="#000">Titer: pfu/ml, cfu/ml</text>
<text x="76.9" y="292.3" font-size="13.3" text-anchor="start" fill="#000" stroke="#000" font-weight="normal" >type</text>
<line x1="79.2" y1="311.4" x2="96" y2="311.4" stroke="#6C9E9E" stroke-width="2.8" />
<circle cx="87.9" cy="311.4" r="2.8" fill="#78AAAA" stroke="#000" stroke-width="1.1"/>
<text x="105" y="314.9" font-size="10.8" text-anchor="start" fill="#000" stroke="#000" font-weight="normal" >bacteria</text>
<line x1="79.2" y1="332.9" x2="96" y2="332.9" stroke="#D00000" stroke-width="2.8" />
<circle cx="87.9" cy="332.9" r="2.8" fill="#DD0000" stroke="#000" stroke-width="1.1"/>
<text x="105" y="336.5" font-size="10.8" text-anchor="start" fill="#000" stroke="#000" font-weight="normal" >phage</text>
<text transform="translate(71.8,489.3) rotate(-45)" font-size="10.6" text-anchor="end" fill="#1c1c1c" stroke="#1c1c1c">0 min</text>
<text transform="translate(93.62,489.3) rotate(-45)" font-size="10.6" text-anchor="end" fill="#1c1c1c" stroke="#1c1c1c">5 min</text>
<text transform="translate(115.44,489.3) rotate(-45)" font-size="10.6" text-anchor="end" fill="#1c1c1c" stroke="#1c1c1c">30 min</text>
<text transform="translate(137.26,489.3) rotate(-45)" font-size="10.6" text-anchor="end" fill="#1c1c1c" stroke="#1c1c1c">60 min</text>
<text transform="translate(159.08,489.3) rotate(-45)" font-size="10.6" text-anchor="end" fill="#1c1c1c" stroke="#1c1c1c">90 min</text>
<text transform="translate(180.9,489.3) rotate(-45)" font-size="10.6" text-anchor="end" fill="#1c1c1c" stroke="#1c1c1c">120 min</text>
<text transform="translate(202.72,489.3) rotate(-45)" font-size="10.6" text-anchor="end" fill="#1c1c1c" stroke="#1c1c1c">150 min</text>
<text transform="translate(224.54,489.3) rotate(-45)" font-size="10.6" text-anchor="end" fill="#1c1c1c" stroke="#1c1c1c">180 min</text>
<text transform="translate(246.36,489.3) rotate(-45)" font-size="10.6" text-anchor="end" fill="#1c1c1c" stroke="#1c1c1c">24 h</text>
<text transform="translate(268.18,489.3) rotate(-45)" font-size="10.6" text-anchor="end" fill="#1c1c1c" stroke="#1c1c1c">48 h</text>
<text transform="translate(290,489.3) rotate(-45)" font-size="10.6" text-anchor="end" fill="#1c1c1c" stroke="#1c1c1c">72 h</text>
<text transform="translate(311.82,489.3) rotate(-45)" font-size="10.6" text-anchor="end" fill="#1c1c1c" stroke="#1c1c1c">96 h</text>
<text transform="translate(333.64,489.3) rotate(-45)" font-size="10.6" text-anchor="end" fill="#1c1c1c" stroke="#1c1c1c">120 h</text>
<line x1="398.3" y1="468.7" x2="686" y2="468.7" stroke="#E4EAEA" stroke-width="1.1" />
<line x1="398.3" y1="432.65" x2="686" y2="432.65" stroke="#E4EAEA" stroke-width="1.1" />
<line x1="398.3" y1="396.6" x2="686" y2="396.6" stroke="#E4EAEA" stroke-width="1.1" />
<line x1="398.3" y1="360.55" x2="686" y2="360.55" stroke="#E4EAEA" stroke-width="1.1" />
<line x1="398.3" y1="324.5" x2="686" y2="324.5" stroke="#E4EAEA" stroke-width="1.1" />
<line x1="398.3" y1="288.45" x2="686" y2="288.45" stroke="#E4EAEA" stroke-width="1.1" />
<line x1="410.2" y1="270.5" x2="410.2" y2="481.5" stroke="#E4EAEA" stroke-width="1.1" />
<line x1="430.41" y1="270.5" x2="430.41" y2="481.5" stroke="#E4EAEA" stroke-width="1.1" />
<line x1="450.62" y1="270.5" x2="450.62" y2="481.5" stroke="#E4EAEA" stroke-width="1.1" />
<line x1="470.83" y1="270.5" x2="470.83" y2="481.5" stroke="#E4EAEA" stroke-width="1.1" />
<line x1="491.04" y1="270.5" x2="491.04" y2="481.5" stroke="#E4EAEA" stroke-width="1.1" />
<line x1="511.25" y1="270.5" x2="511.25" y2="481.5" stroke="#E4EAEA" stroke-width="1.1" />
<line x1="531.46" y1="270.5" x2="531.46" y2="481.5" stroke="#E4EAEA" stroke-width="1.1" />
<line x1="551.67" y1="270.5" x2="551.67" y2="481.5" stroke="#E4EAEA" stroke-width="1.1" />
<line x1="571.88" y1="270.5" x2="571.88" y2="481.5" stroke="#E4EAEA" stroke-width="1.1" />
<line x1="592.09" y1="270.5" x2="592.09" y2="481.5" stroke="#E4EAEA" stroke-width="1.1" />
<line x1="612.3" y1="270.5" x2="612.3" y2="481.5" stroke="#E4EAEA" stroke-width="1.1" />
<line x1="632.51" y1="270.5" x2="632.51" y2="481.5" stroke="#E4EAEA" stroke-width="1.1" />
<line x1="652.72" y1="270.5" x2="652.72" y2="481.5" stroke="#E4EAEA" stroke-width="1.1" />
<line x1="672.93" y1="270.5" x2="672.93" y2="481.5" stroke="#E4EAEA" stroke-width="1.1" />
<polyline points="410.2,395 430.41,410.3 450.62,339.4 470.83,302.7 491.04,298.5 511.25,292.7 531.46,290.8 551.67,280.3 571.88,441 592.09,455.8 612.3,452.4 632.51,468 672.93,430.3" fill="none" stroke="#FF1A1A" stroke-width="1.4" stroke-linejoin="round" />
<polyline points="410.2,395.3 430.41,413.5 450.62,347.1 470.83,306 491.04,301.3 511.25,297.4 531.46,293.4 551.67,282.2 571.88,421.2 592.09,472.3 612.3,451 632.51,470 652.72,439.2 672.93,446.2" fill="none" stroke="#22C55E" stroke-width="1.4" stroke-linejoin="round" />
<polyline points="410.2,393.7 430.41,411.6 450.62,338.3 470.83,304.4 491.04,297.4 511.25,294.3 531.46,289.9 551.67,281.7 571.88,439.6 592.09,462.4 612.3,453 632.51,469 652.72,454.6 672.93,454.8" fill="none" stroke="#F5A300" stroke-width="1.4" stroke-linejoin="round" />
<circle cx="410.2" cy="395" r="2.9" fill="#FF1A1A"/>
<circle cx="430.41" cy="410.3" r="2.9" fill="#FF1A1A"/>
<circle cx="450.62" cy="339.4" r="2.9" fill="#FF1A1A"/>
<circle cx="470.83" cy="302.7" r="2.9" fill="#FF1A1A"/>
<circle cx="491.04" cy="298.5" r="2.9" fill="#FF1A1A"/>
<circle cx="511.25" cy="292.7" r="2.9" fill="#FF1A1A"/>
<circle cx="531.46" cy="290.8" r="2.9" fill="#FF1A1A"/>
<circle cx="551.67" cy="280.3" r="2.9" fill="#FF1A1A"/>
<circle cx="571.88" cy="441" r="2.9" fill="#FF1A1A"/>
<circle cx="592.09" cy="455.8" r="2.9" fill="#FF1A1A"/>
<circle cx="612.3" cy="452.4" r="2.9" fill="#FF1A1A"/>
<circle cx="632.51" cy="468" r="2.9" fill="#FF1A1A"/>
<circle cx="672.93" cy="430.3" r="2.9" fill="#FF1A1A"/>
<circle cx="410.2" cy="395.3" r="2.9" fill="#22C55E"/>
<circle cx="430.41" cy="413.5" r="2.9" fill="#22C55E"/>
<circle cx="450.62" cy="347.1" r="2.9" fill="#22C55E"/>
<circle cx="470.83" cy="306" r="2.9" fill="#22C55E"/>
<circle cx="491.04" cy="301.3" r="2.9" fill="#22C55E"/>
<circle cx="511.25" cy="297.4" r="2.9" fill="#22C55E"/>
<circle cx="531.46" cy="293.4" r="2.9" fill="#22C55E"/>
<circle cx="551.67" cy="282.2" r="2.9" fill="#22C55E"/>
<circle cx="571.88" cy="421.2" r="2.9" fill="#22C55E"/>
<circle cx="592.09" cy="472.3" r="2.9" fill="#22C55E"/>
<circle cx="612.3" cy="451" r="2.9" fill="#22C55E"/>
<circle cx="632.51" cy="470" r="2.9" fill="#22C55E"/>
<circle cx="652.72" cy="439.2" r="2.9" fill="#22C55E"/>
<circle cx="672.93" cy="446.2" r="2.9" fill="#22C55E"/>
<circle cx="410.2" cy="393.7" r="2.9" fill="#F5A300"/>
<circle cx="430.41" cy="411.6" r="2.9" fill="#F5A300"/>
<circle cx="450.62" cy="338.3" r="2.9" fill="#F5A300"/>
<circle cx="470.83" cy="304.4" r="2.9" fill="#F5A300"/>
<circle cx="491.04" cy="297.4" r="2.9" fill="#F5A300"/>
<circle cx="511.25" cy="294.3" r="2.9" fill="#F5A300"/>
<circle cx="531.46" cy="289.9" r="2.9" fill="#F5A300"/>
<circle cx="551.67" cy="281.7" r="2.9" fill="#F5A300"/>
<circle cx="571.88" cy="439.6" r="2.9" fill="#F5A300"/>
<circle cx="592.09" cy="462.4" r="2.9" fill="#F5A300"/>
<circle cx="612.3" cy="453" r="2.9" fill="#F5A300"/>
<circle cx="632.51" cy="469" r="2.9" fill="#F5A300"/>
<circle cx="652.72" cy="454.6" r="2.9" fill="#F5A300"/>
<circle cx="672.93" cy="454.8" r="2.9" fill="#F5A300"/>
<line x1="398.3" y1="479.5" x2="402.1" y2="479.5" stroke="#1a1a1a" stroke-width="1.45" />
<line x1="398.3" y1="475.5" x2="402.1" y2="475.5" stroke="#1a1a1a" stroke-width="1.45" />
<line x1="398.3" y1="471.5" x2="402.1" y2="471.5" stroke="#1a1a1a" stroke-width="1.45" />
<line x1="398.3" y1="468.5" x2="408.8" y2="468.5" stroke="#1a1a1a" stroke-width="1.45" />
<line x1="398.3" y1="446.5" x2="402.1" y2="446.5" stroke="#1a1a1a" stroke-width="1.45" />
<line x1="398.3" y1="434.5" x2="402.1" y2="434.5" stroke="#1a1a1a" stroke-width="1.45" />
<line x1="398.3" y1="425.5" x2="402.1" y2="425.5" stroke="#1a1a1a" stroke-width="1.45" />
<line x1="398.3" y1="418.5" x2="405.1" y2="418.5" stroke="#1a1a1a" stroke-width="1.45" />
<line x1="398.3" y1="412.5" x2="402.1" y2="412.5" stroke="#1a1a1a" stroke-width="1.45" />
<line x1="398.3" y1="407.5" x2="402.1" y2="407.5" stroke="#1a1a1a" stroke-width="1.45" />
<line x1="398.3" y1="403.5" x2="402.1" y2="403.5" stroke="#1a1a1a" stroke-width="1.45" />
<line x1="398.3" y1="399.5" x2="402.1" y2="399.5" stroke="#1a1a1a" stroke-width="1.45" />
<line x1="398.3" y1="396.5" x2="408.8" y2="396.5" stroke="#1a1a1a" stroke-width="1.45" />
<line x1="398.3" y1="374.5" x2="402.1" y2="374.5" stroke="#1a1a1a" stroke-width="1.45" />
<line x1="398.3" y1="362.5" x2="402.1" y2="362.5" stroke="#1a1a1a" stroke-width="1.45" />
<line x1="398.3" y1="353.5" x2="402.1" y2="353.5" stroke="#1a1a1a" stroke-width="1.45" />
<line x1="398.3" y1="346.5" x2="405.1" y2="346.5" stroke="#1a1a1a" stroke-width="1.45" />
<line x1="398.3" y1="340.5" x2="402.1" y2="340.5" stroke="#1a1a1a" stroke-width="1.45" />
<line x1="398.3" y1="335.5" x2="402.1" y2="335.5" stroke="#1a1a1a" stroke-width="1.45" />
<line x1="398.3" y1="331.5" x2="402.1" y2="331.5" stroke="#1a1a1a" stroke-width="1.45" />
<line x1="398.3" y1="327.5" x2="402.1" y2="327.5" stroke="#1a1a1a" stroke-width="1.45" />
<line x1="398.3" y1="324.5" x2="408.8" y2="324.5" stroke="#1a1a1a" stroke-width="1.45" />
<line x1="398.3" y1="302.5" x2="402.1" y2="302.5" stroke="#1a1a1a" stroke-width="1.45" />
<line x1="398.3" y1="290.5" x2="402.1" y2="290.5" stroke="#1a1a1a" stroke-width="1.45" />
<line x1="398.3" y1="281.5" x2="402.1" y2="281.5" stroke="#1a1a1a" stroke-width="1.45" />
<line x1="398.3" y1="274.5" x2="405.1" y2="274.5" stroke="#1a1a1a" stroke-width="1.45" />
<text x="391.6" y="279" font-size="10.8" text-anchor="end" fill="#1c1c1c" stroke="#1c1c1c" font-weight="normal" >50.0</text>
<text x="391.6" y="329.4" font-size="10.8" text-anchor="end" fill="#1c1c1c" stroke="#1c1c1c" font-weight="normal" >10.0</text>
<text x="391.6" y="400.5" font-size="10.8" text-anchor="end" fill="#1c1c1c" stroke="#1c1c1c" font-weight="normal" >1.0</text>
<text x="391.6" y="472.6" font-size="10.8" text-anchor="end" fill="#1c1c1c" stroke="#1c1c1c" font-weight="normal" >0.1</text>
<text transform="translate(364.4,376.5) rotate(-90)" font-size="13.3" text-anchor="middle" fill="#000" stroke="#000">VMR</text>
<text x="602.6" y="282.6" font-size="13.3" text-anchor="start" fill="#000" stroke="#000" font-weight="normal" >replicate</text>
<line x1="604" y1="301.6" x2="621.2" y2="301.6" stroke="#FF1A1A" stroke-width="1.4" />
<circle cx="612.6" cy="301.6" r="2.9" fill="#FF1A1A"/>
<text x="630.4" y="305.5" font-size="10.8" text-anchor="start" fill="#000" stroke="#000" font-weight="normal" >1</text>
<line x1="604" y1="322.85" x2="621.2" y2="322.85" stroke="#22C55E" stroke-width="1.4" />
<circle cx="612.6" cy="322.85" r="2.9" fill="#22C55E"/>
<text x="630.4" y="326.75" font-size="10.8" text-anchor="start" fill="#000" stroke="#000" font-weight="normal" >2</text>
<line x1="604" y1="344.1" x2="621.2" y2="344.1" stroke="#F5A300" stroke-width="1.4" />
<circle cx="612.6" cy="344.1" r="2.9" fill="#F5A300"/>
<text x="630.4" y="348" font-size="10.8" text-anchor="start" fill="#000" stroke="#000" font-weight="normal" >3</text>
<text transform="translate(415.8,492.4) rotate(-45)" font-size="10.4" text-anchor="end" fill="#1c1c1c" stroke="#1c1c1c">0 min</text>
<text transform="translate(436.01,492.4) rotate(-45)" font-size="10.4" text-anchor="end" fill="#1c1c1c" stroke="#1c1c1c">30 min</text>
<text transform="translate(456.22,492.4) rotate(-45)" font-size="10.4" text-anchor="end" fill="#1c1c1c" stroke="#1c1c1c">60 min</text>
<text transform="translate(476.43,492.4) rotate(-45)" font-size="10.4" text-anchor="end" fill="#1c1c1c" stroke="#1c1c1c">90 min</text>
<text transform="translate(496.64,492.4) rotate(-45)" font-size="10.4" text-anchor="end" fill="#1c1c1c" stroke="#1c1c1c">120 min</text>
<text transform="translate(516.85,492.4) rotate(-45)" font-size="10.4" text-anchor="end" fill="#1c1c1c" stroke="#1c1c1c">150 min</text>
<text transform="translate(537.06,492.4) rotate(-45)" font-size="10.4" text-anchor="end" fill="#1c1c1c" stroke="#1c1c1c">180 min</text>
<text transform="translate(557.27,492.4) rotate(-45)" font-size="10.4" text-anchor="end" fill="#1c1c1c" stroke="#1c1c1c">24 h</text>
<text transform="translate(577.48,492.4) rotate(-45)" font-size="10.4" text-anchor="end" fill="#1c1c1c" stroke="#1c1c1c">48 h</text>
<text transform="translate(597.69,492.4) rotate(-45)" font-size="10.4" text-anchor="end" fill="#1c1c1c" stroke="#1c1c1c">72 h</text>
<text transform="translate(617.9,492.4) rotate(-45)" font-size="10.4" text-anchor="end" fill="#1c1c1c" stroke="#1c1c1c">96 h</text>
<text transform="translate(638.11,492.4) rotate(-45)" font-size="10.4" text-anchor="end" fill="#1c1c1c" stroke="#1c1c1c">120 h</text>
<text transform="translate(658.32,492.4) rotate(-45)" font-size="10.4" text-anchor="end" fill="#1c1c1c" stroke="#1c1c1c">18 days</text>
<text transform="translate(678.53,492.4) rotate(-45)" font-size="10.4" text-anchor="end" fill="#1c1c1c" stroke="#1c1c1c">23 days</text>
</svg>
</body></html>
